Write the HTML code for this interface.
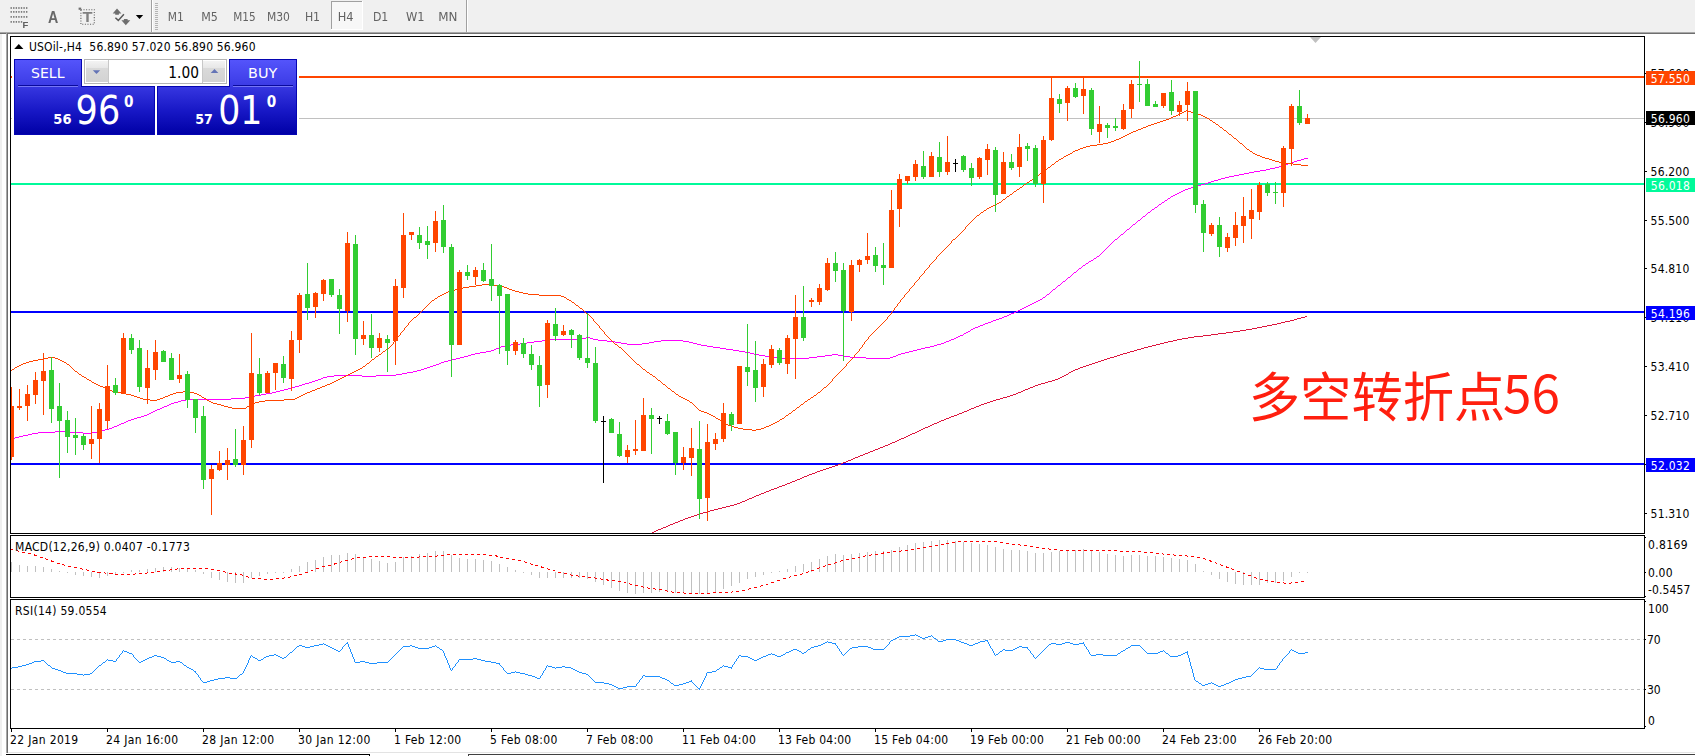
<!DOCTYPE html>
<html><head><meta charset="utf-8"><title>USOil H4</title>
<style>html,body{margin:0;padding:0;background:#fff;overflow:hidden}svg{display:block}text{font-family:'DejaVu Sans Condensed','Liberation Sans',sans-serif;font-size:12px;fill:#000}.cj{font-family:"Liberation Sans","Noto Sans CJK SC",sans-serif}.cj2{font-family:"Noto Sans CJK SC","Liberation Sans",sans-serif}</style></head><body>
<svg width="1695" height="756" viewBox="0 0 1695 756">
<defs><linearGradient id="gSell" x1="0" y1="0" x2="0" y2="1"><stop offset="0" stop-color="#5454fb"/><stop offset="1" stop-color="#3a3ae4"/></linearGradient><linearGradient id="gTile" x1="0" y1="0" x2="0" y2="1"><stop offset="0" stop-color="#3636e0"/><stop offset="0.5" stop-color="#1818c6"/><stop offset="1" stop-color="#0000a6"/></linearGradient><linearGradient id="gBtn" x1="0" y1="0" x2="0" y2="1"><stop offset="0" stop-color="#f3f3f3"/><stop offset="0.32" stop-color="#e7e7e7"/><stop offset="0.33" stop-color="#dadada"/><stop offset="1" stop-color="#d3d3d3"/></linearGradient><filter id="soft" x="-5%" y="-5%" width="110%" height="110%"><feGaussianBlur stdDeviation="0.35"/></filter><filter id="gray" x="-5%" y="-20%" width="110%" height="140%"><feOffset dx="0" dy="0"/></filter><clipPath id="cMain"><rect x="11" y="37" width="1633" height="496"/></clipPath></defs>
<rect x="0" y="0" width="1695" height="756" fill="#fff"/>
<rect x="0" y="0" width="1695" height="32" fill="#f0f0f0"/>
<rect x="0" y="32" width="1695" height="1" fill="#a8a8a8"/>
<rect x="0" y="33" width="1695" height="1" fill="#6e6e6e"/>
<rect x="0" y="34" width="2" height="722" fill="#f0f0f0"/>
<rect x="6" y="33" width="1" height="720" fill="#a8a8a8"/>
<rect x="7" y="33" width="1" height="720" fill="#6e6e6e"/>
<rect x="8" y="752" width="1687" height="1" fill="#e3e3e3"/>
<rect x="6" y="754" width="364" height="1" fill="#000"/>
<rect x="369" y="754" width="1" height="2" fill="#000"/>
<rect x="468" y="754" width="1227" height="1" fill="#404040"/>
<rect x="468" y="754" width="1" height="2" fill="#404040"/>
<g clip-path="url(#cMain)" shape-rendering="crispEdges">
<rect x="11" y="118" width="1633" height="1" fill="#c0c0c0"/>
<rect x="11" y="76" width="1633" height="2" fill="#ff4500"/>
<rect x="11" y="183" width="1633" height="2" fill="#00fa9a"/>
<rect x="11" y="311" width="1633" height="2" fill="#0000ff"/>
<rect x="11" y="463" width="1633" height="2" fill="#0000ff"/>
</g>
<g clip-path="url(#cMain)" shape-rendering="crispEdges">
<path d="M650 533h2v1h-2zM652 532h2v1h-2zM654 531h2v1h-2zM656 530h2v1h-2zM658 529h3v1h-3zM661 528h2v1h-2zM663 527h3v1h-3zM666 526h2v1h-2zM668 525h2v1h-2zM670 524h3v1h-3zM673 523h2v1h-2zM675 522h3v1h-3zM678 521h2v1h-2zM680 520h3v1h-3zM683 519h2v1h-2zM685 518h3v1h-3zM688 517h3v1h-3zM691 516h3v1h-3zM694 515h3v1h-3zM697 514h3v1h-3zM700 513h3v1h-3zM703 512h4v1h-4zM707 511h3v1h-3zM710 510h4v1h-4zM714 509h4v1h-4zM718 508h4v1h-4zM722 507h4v1h-4zM726 506h4v1h-4zM730 505h4v1h-4zM734 504h3v1h-3zM737 503h3v1h-3zM740 502h2v1h-2zM742 501h3v1h-3zM745 500h2v1h-2zM747 499h2v1h-2zM749 498h3v1h-3zM752 497h2v1h-2zM754 496h2v1h-2zM756 495h3v1h-3zM759 494h2v1h-2zM761 493h3v1h-3zM764 492h2v1h-2zM766 491h3v1h-3zM769 490h2v1h-2zM771 489h3v1h-3zM774 488h3v1h-3zM777 487h2v1h-2zM779 486h3v1h-3zM782 485h3v1h-3zM785 484h2v1h-2zM787 483h3v1h-3zM790 482h2v1h-2zM792 481h3v1h-3zM795 480h2v1h-2zM797 479h3v1h-3zM800 478h2v1h-2zM802 477h2v1h-2zM804 476h3v1h-3zM807 475h2v1h-2zM809 474h3v1h-3zM812 473h3v1h-3zM815 472h2v1h-2zM817 471h3v1h-3zM820 470h3v1h-3zM823 469h3v1h-3zM826 468h3v1h-3zM829 467h3v1h-3zM832 466h3v1h-3zM835 465h3v1h-3zM838 464h3v1h-3zM841 463h2v1h-2zM843 462h3v1h-3zM846 461h2v1h-2zM848 460h3v1h-3zM851 459h2v1h-2zM853 458h2v1h-2zM855 457h3v1h-3zM858 456h2v1h-2zM860 455h3v1h-3zM863 454h2v1h-2zM865 453h3v1h-3zM868 452h2v1h-2zM870 451h3v1h-3zM873 450h2v1h-2zM875 449h3v1h-3zM878 448h2v1h-2zM880 447h3v1h-3zM883 446h2v1h-2zM885 445h3v1h-3zM888 444h2v1h-2zM890 443h2v1h-2zM892 442h3v1h-3zM895 441h2v1h-2zM897 440h2v1h-2zM899 439h2v1h-2zM901 438h3v1h-3zM904 437h2v1h-2zM906 436h2v1h-2zM908 435h2v1h-2zM910 434h2v1h-2zM912 433h3v1h-3zM915 432h2v1h-2zM917 431h2v1h-2zM919 430h2v1h-2zM921 429h2v1h-2zM923 428h2v1h-2zM925 427h3v1h-3zM928 426h2v1h-2zM930 425h2v1h-2zM932 424h2v1h-2zM934 423h3v1h-3zM937 422h2v1h-2zM939 421h2v1h-2zM941 420h3v1h-3zM944 419h2v1h-2zM946 418h3v1h-3zM949 417h2v1h-2zM951 416h3v1h-3zM954 415h3v1h-3zM957 414h2v1h-2zM959 413h3v1h-3zM962 412h2v1h-2zM964 411h3v1h-3zM967 410h2v1h-2zM969 409h2v1h-2zM971 408h3v1h-3zM974 407h2v1h-2zM976 406h3v1h-3zM979 405h2v1h-2zM981 404h3v1h-3zM984 403h3v1h-3zM987 402h3v1h-3zM990 401h3v1h-3zM993 400h3v1h-3zM996 399h4v1h-4zM1000 398h3v1h-3zM1003 397h4v1h-4zM1007 396h3v1h-3zM1010 395h3v1h-3zM1013 394h3v1h-3zM1016 393h2v1h-2zM1018 392h3v1h-3zM1021 391h2v1h-2zM1023 390h2v1h-2zM1025 389h3v1h-3zM1028 388h2v1h-2zM1030 387h3v1h-3zM1033 386h2v1h-2zM1035 385h3v1h-3zM1038 384h3v1h-3zM1041 383h4v1h-4zM1045 382h3v1h-3zM1048 381h4v1h-4zM1052 380h3v1h-3zM1055 379h3v1h-3zM1058 378h2v1h-2zM1060 377h2v1h-2zM1062 376h2v1h-2zM1064 375h2v1h-2zM1066 374h2v1h-2zM1068 373h1v1h-1zM1069 372h2v1h-2zM1071 371h2v1h-2zM1073 370h2v1h-2zM1075 369h3v1h-3zM1078 368h2v1h-2zM1080 367h3v1h-3zM1083 366h3v1h-3zM1086 365h3v1h-3zM1089 364h3v1h-3zM1092 363h3v1h-3zM1095 362h3v1h-3zM1098 361h3v1h-3zM1101 360h3v1h-3zM1104 359h3v1h-3zM1107 358h3v1h-3zM1110 357h4v1h-4zM1114 356h3v1h-3zM1117 355h3v1h-3zM1120 354h3v1h-3zM1123 353h4v1h-4zM1127 352h3v1h-3zM1130 351h4v1h-4zM1134 350h3v1h-3zM1137 349h4v1h-4zM1141 348h3v1h-3zM1144 347h4v1h-4zM1148 346h4v1h-4zM1152 345h4v1h-4zM1156 344h4v1h-4zM1160 343h4v1h-4zM1164 342h4v1h-4zM1168 341h5v1h-5zM1173 340h4v1h-4zM1177 339h5v1h-5zM1182 338h6v1h-6zM1188 337h6v1h-6zM1194 336h9v1h-9zM1203 335h8v1h-8zM1211 334h7v1h-7zM1218 333h8v1h-8zM1226 332h7v1h-7zM1233 331h7v1h-7zM1240 330h6v1h-6zM1246 329h6v1h-6zM1252 328h5v1h-5zM1257 327h5v1h-5zM1262 326h5v1h-5zM1267 325h5v1h-5zM1272 324h5v1h-5zM1277 323h4v1h-4zM1281 322h4v1h-4zM1285 321h5v1h-5zM1290 320h4v1h-4zM1294 319h3v1h-3zM1297 318h4v1h-4zM1301 317h4v1h-4zM1305 316h2v1h-2z" fill="#dc143c" />
<path d="M10 439h1v1h-1zM11 438h4v1h-4zM15 437h4v1h-4zM19 436h4v1h-4zM23 435h5v1h-5zM28 434h4v1h-4zM32 433h6v1h-6zM38 432h17v1h-17zM55 431h13v1h-13zM68 432h15v1h-15zM83 433h8v1h-8zM91 432h6v1h-6zM97 431h5v1h-5zM102 430h3v1h-3zM105 429h4v1h-4zM109 428h3v1h-3zM112 427h2v1h-2zM114 426h3v1h-3zM117 425h2v1h-2zM119 424h2v1h-2zM121 423h3v1h-3zM124 422h2v1h-2zM126 421h2v1h-2zM128 420h3v1h-3zM131 419h3v1h-3zM134 418h3v1h-3zM137 417h4v1h-4zM141 416h3v1h-3zM144 415h3v1h-3zM147 414h2v1h-2zM149 413h2v1h-2zM151 412h2v1h-2zM153 411h2v1h-2zM155 410h2v1h-2zM157 409h3v1h-3zM160 408h2v1h-2zM162 407h2v1h-2zM164 406h3v1h-3zM167 405h2v1h-2zM169 404h2v1h-2zM171 403h3v1h-3zM174 402h4v1h-4zM178 401h3v1h-3zM181 400h5v1h-5zM186 399h45v1h-45zM231 398h14v1h-14zM245 397h5v1h-5zM250 396h5v1h-5zM255 395h6v1h-6zM261 394h5v1h-5zM266 393h6v1h-6zM272 392h4v1h-4zM276 391h4v1h-4zM280 390h4v1h-4zM284 389h4v1h-4zM288 388h4v1h-4zM292 387h3v1h-3zM295 386h4v1h-4zM299 385h3v1h-3zM302 384h3v1h-3zM305 383h4v1h-4zM309 382h3v1h-3zM312 381h3v1h-3zM315 380h3v1h-3zM318 379h3v1h-3zM321 378h2v1h-2zM323 377h4v1h-4zM327 376h7v1h-7zM334 375h28v1h-28zM362 376h14v1h-14zM376 375h20v1h-20zM396 374h6v1h-6zM402 373h5v1h-5zM407 372h6v1h-6zM413 371h4v1h-4zM417 370h4v1h-4zM421 369h3v1h-3zM424 368h3v1h-3zM427 367h3v1h-3zM430 366h3v1h-3zM433 365h3v1h-3zM436 364h3v1h-3zM439 363h2v1h-2zM441 362h3v1h-3zM444 361h4v1h-4zM448 360h4v1h-4zM452 359h4v1h-4zM456 358h4v1h-4zM460 357h4v1h-4zM464 356h4v1h-4zM468 355h3v1h-3zM471 354h4v1h-4zM475 353h5v1h-5zM480 352h6v1h-6zM486 351h5v1h-5zM491 350h3v1h-3zM494 349h2v1h-2zM496 348h3v1h-3zM499 347h2v1h-2zM501 346h4v1h-4zM505 345h6v1h-6zM511 344h9v1h-9zM520 343h7v1h-7zM527 342h7v1h-7zM534 341h8v1h-8zM542 340h8v1h-8zM550 339h30v1h-30zM580 338h6v1h-6zM586 337h4v1h-4zM590 338h3v1h-3zM593 339h5v1h-5zM598 340h9v1h-9zM607 341h8v1h-8zM615 342h6v1h-6zM621 343h6v1h-6zM627 344h15v1h-15zM642 343h7v1h-7zM649 342h5v1h-5zM654 341h7v1h-7zM661 340h22v1h-22zM683 341h6v1h-6zM689 342h4v1h-4zM693 343h4v1h-4zM697 344h4v1h-4zM701 345h6v1h-6zM707 346h6v1h-6zM713 347h7v1h-7zM720 348h6v1h-6zM726 349h7v1h-7zM733 350h6v1h-6zM739 351h6v1h-6zM745 352h5v1h-5zM750 353h4v1h-4zM754 354h5v1h-5zM759 355h6v1h-6zM765 356h5v1h-5zM770 357h8v1h-8zM778 358h31v1h-31zM809 357h8v1h-8zM817 356h8v1h-8zM825 355h7v1h-7zM832 354h6v1h-6zM838 355h5v1h-5zM843 356h7v1h-7zM850 357h16v1h-16zM866 358h24v1h-24zM890 357h3v1h-3zM893 356h3v1h-3zM896 355h2v1h-2zM898 354h3v1h-3zM901 353h4v1h-4zM905 352h4v1h-4zM909 351h4v1h-4zM913 350h4v1h-4zM917 349h4v1h-4zM921 348h4v1h-4zM925 347h5v1h-5zM930 346h4v1h-4zM934 345h3v1h-3zM937 344h4v1h-4zM941 343h3v1h-3zM944 342h2v1h-2zM946 341h3v1h-3zM949 340h2v1h-2zM951 339h3v1h-3zM954 338h2v1h-2zM956 337h2v1h-2zM958 336h2v1h-2zM960 335h3v1h-3zM963 334h1v1h-1zM964 333h2v1h-2zM966 332h2v1h-2zM968 331h2v1h-2zM970 330h1v1h-1zM971 329h2v1h-2zM973 328h2v1h-2zM975 327h3v1h-3zM978 326h2v1h-2zM980 325h3v1h-3zM983 324h2v1h-2zM985 323h3v1h-3zM988 322h3v1h-3zM991 321h2v1h-2zM993 320h3v1h-3zM996 319h3v1h-3zM999 318h3v1h-3zM1002 317h2v1h-2zM1004 316h3v1h-3zM1007 315h2v1h-2zM1009 314h2v1h-2zM1011 313h3v1h-3zM1014 312h2v1h-2zM1016 311h2v1h-2zM1018 310h2v1h-2zM1020 309h2v1h-2zM1022 308h2v1h-2zM1024 307h2v1h-2zM1026 306h2v1h-2zM1028 305h2v1h-2zM1030 304h2v1h-2zM1032 303h2v1h-2zM1034 302h2v1h-2zM1036 301h2v1h-2zM1038 300h2v1h-2zM1040 299h2v1h-2zM1042 298h1v1h-1zM1043 297h2v1h-2zM1045 296h1v1h-1zM1046 295h1v1h-1zM1047 294h2v1h-2zM1049 293h1v1h-1zM1050 292h1v1h-1zM1051 291h1v1h-1zM1052 290h1v1h-1zM1053 289h2v1h-2zM1055 288h1v1h-1zM1056 287h1v1h-1zM1057 286h1v1h-1zM1058 285h2v1h-2zM1060 284h1v1h-1zM1061 283h1v1h-1zM1062 282h1v1h-1zM1063 281h2v1h-2zM1065 280h1v1h-1zM1066 279h1v1h-1zM1067 278h1v1h-1zM1068 277h2v1h-2zM1070 276h1v1h-1zM1071 275h1v1h-1zM1072 274h1v1h-1zM1073 273h1v1h-1zM1074 272h2v1h-2zM1076 271h1v1h-1zM1077 270h1v1h-1zM1078 269h1v1h-1zM1079 268h2v1h-2zM1081 267h1v1h-1zM1082 266h1v1h-1zM1083 265h2v1h-2zM1085 264h1v1h-1zM1086 263h2v1h-2zM1088 262h1v1h-1zM1089 261h2v1h-2zM1091 260h2v1h-2zM1093 259h1v1h-1zM1094 258h2v1h-2zM1096 257h1v1h-1zM1097 256h2v1h-2zM1099 255h1v1h-1zM1100 254h1v1h-1zM1101 253h1v1h-1zM1102 252h1v1h-1zM1103 251h1v1h-1zM1104 250h1v1h-1zM1105 249h1v1h-1zM1106 248h1v1h-1zM1107 247h1v1h-1zM1108 246h1v1h-1zM1109 245h1v1h-1zM1110 244h1v1h-1zM1111 243h1v1h-1zM1112 242h1v1h-1zM1113 241h1v1h-1zM1114 240h1v1h-1zM1115 239h2v1h-2zM1117 238h1v1h-1zM1118 237h1v1h-1zM1119 236h1v1h-1zM1120 235h1v1h-1zM1121 234h2v1h-2zM1123 233h1v1h-1zM1124 232h1v1h-1zM1125 231h1v1h-1zM1126 230h1v1h-1zM1127 229h2v1h-2zM1129 228h1v1h-1zM1130 227h1v1h-1zM1131 226h1v1h-1zM1132 225h1v1h-1zM1133 224h2v1h-2zM1135 223h1v1h-1zM1136 222h1v1h-1zM1137 221h1v1h-1zM1138 220h2v1h-2zM1140 219h1v1h-1zM1141 218h1v1h-1zM1142 217h1v1h-1zM1143 216h2v1h-2zM1145 215h1v1h-1zM1146 214h1v1h-1zM1147 213h1v1h-1zM1148 212h2v1h-2zM1150 211h1v1h-1zM1151 210h1v1h-1zM1152 209h2v1h-2zM1154 208h1v1h-1zM1155 207h2v1h-2zM1157 206h1v1h-1zM1158 205h1v1h-1zM1159 204h2v1h-2zM1161 203h1v1h-1zM1162 202h2v1h-2zM1164 201h1v1h-1zM1165 200h2v1h-2zM1167 199h1v1h-1zM1168 198h2v1h-2zM1170 197h1v1h-1zM1171 196h2v1h-2zM1173 195h2v1h-2zM1175 194h2v1h-2zM1177 193h2v1h-2zM1179 192h2v1h-2zM1181 191h2v1h-2zM1183 190h2v1h-2zM1185 189h3v1h-3zM1188 188h3v1h-3zM1191 187h3v1h-3zM1194 186h3v1h-3zM1197 185h4v1h-4zM1201 184h4v1h-4zM1205 183h3v1h-3zM1208 182h3v1h-3zM1211 181h3v1h-3zM1214 180h4v1h-4zM1218 179h3v1h-3zM1221 178h4v1h-4zM1225 177h4v1h-4zM1229 176h5v1h-5zM1234 175h5v1h-5zM1239 174h5v1h-5zM1244 173h5v1h-5zM1249 172h5v1h-5zM1254 171h6v1h-6zM1260 170h6v1h-6zM1266 169h4v1h-4zM1270 168h5v1h-5zM1275 167h4v1h-4zM1279 166h3v1h-3zM1282 165h3v1h-3zM1285 164h3v1h-3zM1288 163h3v1h-3zM1291 162h3v1h-3zM1294 161h3v1h-3zM1297 160h4v1h-4zM1301 159h3v1h-3zM1304 158h4v1h-4z" fill="#ff00ff" />
<path d="M10 371h1v1h-1zM11 370h1v1h-1zM12 369h2v1h-2zM14 368h1v1h-1zM15 367h2v1h-2zM17 366h2v1h-2zM19 365h2v1h-2zM21 364h2v1h-2zM23 363h3v1h-3zM26 362h3v1h-3zM29 361h4v1h-4zM33 360h5v1h-5zM38 359h5v1h-5zM43 358h5v1h-5zM48 357h7v1h-7zM55 358h3v1h-3zM58 359h2v1h-2zM60 360h2v1h-2zM62 361h2v1h-2zM64 362h2v1h-2zM66 363h1v1h-1zM67 364h2v1h-2zM69 365h1v1h-1zM70 366h1v1h-1zM71 367h1v1h-1zM72 368h1v1h-1zM73 369h1v1h-1zM74 370h1v1h-1zM75 371h2v1h-2zM77 372h1v1h-1zM78 373h1v1h-1zM79 374h2v1h-2zM81 375h1v1h-1zM82 376h2v1h-2zM84 377h2v1h-2zM86 378h1v1h-1zM87 379h2v1h-2zM89 380h2v1h-2zM91 381h1v1h-1zM92 382h2v1h-2zM94 383h2v1h-2zM96 384h2v1h-2zM98 385h2v1h-2zM100 386h3v1h-3zM103 387h2v1h-2zM105 388h2v1h-2zM107 389h3v1h-3zM110 390h2v1h-2zM112 391h4v1h-4zM116 392h5v1h-5zM121 393h5v1h-5zM126 394h5v1h-5zM131 395h3v1h-3zM134 396h3v1h-3zM137 397h3v1h-3zM140 398h3v1h-3zM143 399h7v1h-7zM150 400h7v1h-7zM157 399h3v1h-3zM160 398h3v1h-3zM163 397h2v1h-2zM165 396h3v1h-3zM168 395h2v1h-2zM170 394h3v1h-3zM173 393h3v1h-3zM176 392h7v1h-7zM183 391h7v1h-7zM190 392h4v1h-4zM194 393h3v1h-3zM197 394h2v1h-2zM199 395h2v1h-2zM201 396h1v1h-1zM202 397h2v1h-2zM204 398h2v1h-2zM206 399h1v1h-1zM207 400h2v1h-2zM209 401h2v1h-2zM211 402h2v1h-2zM213 403h4v1h-4zM217 404h4v1h-4zM221 405h3v1h-3zM224 406h4v1h-4zM228 407h4v1h-4zM232 408h14v1h-14zM246 407h1v1h-1zM247 406h2v1h-2zM249 405h1v1h-1zM250 404h2v1h-2zM252 403h3v1h-3zM255 402h4v1h-4zM259 401h6v1h-6zM265 400h19v1h-19zM284 399h11v1h-11zM295 398h2v1h-2zM297 397h2v1h-2zM299 396h2v1h-2zM301 395h2v1h-2zM303 394h2v1h-2zM305 393h2v1h-2zM307 392h3v1h-3zM310 391h2v1h-2zM312 390h3v1h-3zM315 389h2v1h-2zM317 388h3v1h-3zM320 387h2v1h-2zM322 386h3v1h-3zM325 385h2v1h-2zM327 384h3v1h-3zM330 383h2v1h-2zM332 382h2v1h-2zM334 381h2v1h-2zM336 380h2v1h-2zM338 379h2v1h-2zM340 378h2v1h-2zM342 377h2v1h-2zM344 376h2v1h-2zM346 375h2v1h-2zM348 374h2v1h-2zM350 373h2v1h-2zM352 372h2v1h-2zM354 371h2v1h-2zM356 370h2v1h-2zM358 369h2v1h-2zM360 368h2v1h-2zM362 367h1v1h-1zM363 366h2v1h-2zM365 365h1v1h-1zM366 364h1v1h-1zM367 363h2v1h-2zM369 362h1v1h-1zM370 361h1v1h-1zM371 360h1v1h-1zM372 359h2v1h-2zM374 358h1v1h-1zM375 357h1v1h-1zM376 356h2v1h-2zM378 355h1v1h-1zM379 354h2v1h-2zM381 353h1v1h-1zM382 352h1v1h-1zM383 351h2v1h-2zM385 350h1v1h-1zM386 349h1v1h-1zM387 348h2v1h-2zM389 347h1v1h-1zM390 346h1v1h-1zM391 345h1v1h-1zM392 344h1v1h-1zM393 342h1v2h-1zM394 341h1v1h-1zM395 340h1v1h-1zM396 339h1v1h-1zM397 337h1v2h-1zM398 336h1v1h-1zM399 335h1v1h-1zM400 333h1v2h-1zM401 332h1v1h-1zM402 331h1v1h-1zM403 330h1v1h-1zM404 328h1v2h-1zM405 327h1v1h-1zM406 326h1v1h-1zM407 325h1v1h-1zM408 323h1v2h-1zM409 322h1v1h-1zM410 321h1v1h-1zM411 320h1v1h-1zM412 319h1v1h-1zM413 318h1v1h-1zM414 317h2v1h-2zM416 316h1v1h-1zM417 315h1v1h-1zM418 314h1v1h-1zM419 313h1v1h-1zM420 312h1v1h-1zM421 311h1v1h-1zM422 310h1v1h-1zM423 309h1v1h-1zM424 308h1v1h-1zM425 307h1v1h-1zM426 306h1v1h-1zM427 305h1v1h-1zM428 304h1v1h-1zM429 303h1v1h-1zM430 302h1v1h-1zM431 301h1v1h-1zM432 300h2v1h-2zM434 299h1v1h-1zM435 298h2v1h-2zM437 297h1v1h-1zM438 296h2v1h-2zM440 295h2v1h-2zM442 294h2v1h-2zM444 293h2v1h-2zM446 292h2v1h-2zM448 291h3v1h-3zM451 290h4v1h-4zM455 289h3v1h-3zM458 288h5v1h-5zM463 287h6v1h-6zM469 286h7v1h-7zM476 285h6v1h-6zM482 284h10v1h-10zM492 285h8v1h-8zM500 286h4v1h-4zM504 287h3v1h-3zM507 288h2v1h-2zM509 289h3v1h-3zM512 290h3v1h-3zM515 291h4v1h-4zM519 292h4v1h-4zM523 293h5v1h-5zM528 294h11v1h-11zM539 295h22v1h-22zM561 296h3v1h-3zM564 297h2v1h-2zM566 298h1v1h-1zM567 299h2v1h-2zM569 300h2v1h-2zM571 301h1v1h-1zM572 302h2v1h-2zM574 303h1v1h-1zM575 304h1v1h-1zM576 305h2v1h-2zM578 306h1v1h-1zM579 307h1v1h-1zM580 308h2v1h-2zM582 309h1v1h-1zM583 310h1v1h-1zM584 311h1v1h-1zM585 312h1v1h-1zM586 313h2v1h-2zM588 314h1v1h-1zM589 315h1v1h-1zM590 316h1v1h-1zM591 317h1v1h-1zM592 318h1v1h-1zM593 319h1v2h-1zM594 321h1v1h-1zM595 322h1v1h-1zM596 323h1v1h-1zM597 324h1v1h-1zM598 325h1v1h-1zM599 326h1v2h-1zM600 328h1v1h-1zM601 329h1v1h-1zM602 330h1v1h-1zM603 331h1v1h-1zM604 332h1v2h-1zM605 334h1v1h-1zM606 335h1v1h-1zM607 336h1v1h-1zM608 337h1v1h-1zM609 338h1v1h-1zM610 339h1v1h-1zM611 340h1v1h-1zM612 341h1v1h-1zM613 342h1v1h-1zM614 343h1v1h-1zM615 344h2v1h-2zM617 345h1v1h-1zM618 346h1v1h-1zM619 347h2v1h-2zM621 348h1v1h-1zM622 349h1v1h-1zM623 350h1v1h-1zM624 351h1v1h-1zM625 352h1v1h-1zM626 353h1v1h-1zM627 354h1v1h-1zM628 355h1v1h-1zM629 356h1v1h-1zM630 357h1v1h-1zM631 358h1v1h-1zM632 359h1v1h-1zM633 360h1v1h-1zM634 361h1v1h-1zM635 362h1v1h-1zM636 363h1v1h-1zM637 364h2v1h-2zM639 365h1v1h-1zM640 366h1v1h-1zM641 367h1v1h-1zM642 368h1v1h-1zM643 369h2v1h-2zM645 370h1v1h-1zM646 371h1v1h-1zM647 372h2v1h-2zM649 373h1v1h-1zM650 374h2v1h-2zM652 375h1v1h-1zM653 376h2v1h-2zM655 377h1v1h-1zM656 378h1v1h-1zM657 379h1v1h-1zM658 380h2v1h-2zM660 381h1v1h-1zM661 382h1v1h-1zM662 383h1v1h-1zM663 384h2v1h-2zM665 385h1v1h-1zM666 386h1v1h-1zM667 387h1v1h-1zM668 388h2v1h-2zM670 389h1v1h-1zM671 390h1v1h-1zM672 391h2v1h-2zM674 392h1v1h-1zM675 393h1v1h-1zM676 394h2v1h-2zM678 395h1v1h-1zM679 396h2v1h-2zM681 397h2v1h-2zM683 398h2v1h-2zM685 399h2v1h-2zM687 400h2v1h-2zM689 401h1v1h-1zM690 402h2v1h-2zM692 403h1v1h-1zM693 404h1v1h-1zM694 405h1v1h-1zM695 406h1v1h-1zM696 407h1v1h-1zM697 408h1v1h-1zM698 409h1v1h-1zM699 410h2v1h-2zM701 411h3v1h-3zM704 412h3v1h-3zM707 413h2v1h-2zM709 414h2v1h-2zM711 415h2v1h-2zM713 416h2v1h-2zM715 417h1v1h-1zM716 418h2v1h-2zM718 419h2v1h-2zM720 420h1v1h-1zM721 421h2v1h-2zM723 422h2v1h-2zM725 423h1v1h-1zM726 424h2v1h-2zM728 425h3v1h-3zM731 426h3v1h-3zM734 427h4v1h-4zM738 428h5v1h-5zM743 429h9v1h-9zM752 430h4v1h-4zM756 429h5v1h-5zM761 428h3v1h-3zM764 427h2v1h-2zM766 426h3v1h-3zM769 425h2v1h-2zM771 424h2v1h-2zM773 423h2v1h-2zM775 422h2v1h-2zM777 421h2v1h-2zM779 420h1v1h-1zM780 419h2v1h-2zM782 418h2v1h-2zM784 417h1v1h-1zM785 416h1v1h-1zM786 415h2v1h-2zM788 414h1v1h-1zM789 413h2v1h-2zM791 412h1v1h-1zM792 411h1v1h-1zM793 410h2v1h-2zM795 409h1v1h-1zM796 408h1v1h-1zM797 407h2v1h-2zM799 406h1v1h-1zM800 405h1v1h-1zM801 404h2v1h-2zM803 403h1v1h-1zM804 402h1v1h-1zM805 401h2v1h-2zM807 400h1v1h-1zM808 399h2v1h-2zM810 398h1v1h-1zM811 397h2v1h-2zM813 396h1v1h-1zM814 395h2v1h-2zM816 394h1v1h-1zM817 393h1v1h-1zM818 392h2v1h-2zM820 391h1v1h-1zM821 390h1v1h-1zM822 389h1v1h-1zM823 388h1v1h-1zM824 387h2v1h-2zM826 386h1v1h-1zM827 385h1v1h-1zM828 384h1v1h-1zM829 383h1v1h-1zM830 382h1v1h-1zM831 381h1v1h-1zM832 379h1v2h-1zM833 378h1v1h-1zM834 377h1v1h-1zM835 376h1v1h-1zM836 375h1v1h-1zM837 374h1v1h-1zM838 373h1v1h-1zM839 372h1v1h-1zM840 371h1v1h-1zM841 370h1v1h-1zM842 369h1v1h-1zM843 368h1v1h-1zM844 367h1v1h-1zM845 366h1v1h-1zM846 364h1v2h-1zM847 363h1v1h-1zM848 362h1v1h-1zM849 361h1v1h-1zM850 360h1v1h-1zM851 359h1v1h-1zM852 358h1v1h-1zM853 357h1v1h-1zM854 355h1v2h-1zM855 354h1v1h-1zM856 353h1v1h-1zM857 352h1v1h-1zM858 351h1v1h-1zM859 349h1v2h-1zM860 348h1v1h-1zM861 347h1v1h-1zM862 345h1v2h-1zM863 344h1v1h-1zM864 342h1v2h-1zM865 341h1v1h-1zM866 340h1v1h-1zM867 339h1v1h-1zM868 337h1v2h-1zM869 336h1v1h-1zM870 335h1v1h-1zM871 334h1v1h-1zM872 333h1v1h-1zM873 332h1v1h-1zM874 331h1v1h-1zM875 330h1v1h-1zM876 329h1v1h-1zM877 328h1v1h-1zM878 327h1v1h-1zM879 326h1v1h-1zM880 325h1v1h-1zM881 324h1v1h-1zM882 323h1v1h-1zM883 322h1v1h-1zM884 321h1v1h-1zM885 320h1v1h-1zM886 319h1v1h-1zM887 317h1v2h-1zM888 316h1v1h-1zM889 315h1v1h-1zM890 314h1v1h-1zM891 312h1v2h-1zM892 311h1v1h-1zM893 310h1v1h-1zM894 308h1v2h-1zM895 307h1v1h-1zM896 306h1v1h-1zM897 304h1v2h-1zM898 303h1v1h-1zM899 302h1v1h-1zM900 300h1v2h-1zM901 299h1v1h-1zM902 298h1v1h-1zM903 297h1v1h-1zM904 295h1v2h-1zM905 294h1v1h-1zM906 293h1v1h-1zM907 292h1v1h-1zM908 291h1v1h-1zM909 289h1v2h-1zM910 288h1v1h-1zM911 287h1v1h-1zM912 286h1v1h-1zM913 285h1v1h-1zM914 283h1v2h-1zM915 282h1v1h-1zM916 281h1v1h-1zM917 280h1v1h-1zM918 279h1v1h-1zM919 277h1v2h-1zM920 276h1v1h-1zM921 275h1v1h-1zM922 274h1v1h-1zM923 273h1v1h-1zM924 271h1v2h-1zM925 270h1v1h-1zM926 269h1v1h-1zM927 268h1v1h-1zM928 267h1v1h-1zM929 265h1v2h-1zM930 264h1v1h-1zM931 263h1v1h-1zM932 262h1v1h-1zM933 261h1v1h-1zM934 260h1v1h-1zM935 259h1v1h-1zM936 257h1v2h-1zM937 256h1v1h-1zM938 255h1v1h-1zM939 254h1v1h-1zM940 253h1v1h-1zM941 252h1v1h-1zM942 251h1v1h-1zM943 250h1v1h-1zM944 249h1v1h-1zM945 248h1v1h-1zM946 247h1v1h-1zM947 246h1v1h-1zM948 245h1v1h-1zM949 244h1v1h-1zM950 243h1v1h-1zM951 241h1v2h-1zM952 240h1v1h-1zM953 239h2v1h-2zM955 238h1v1h-1zM956 237h1v1h-1zM957 236h1v1h-1zM958 235h1v1h-1zM959 234h1v1h-1zM960 233h1v1h-1zM961 232h1v1h-1zM962 231h1v1h-1zM963 230h1v1h-1zM964 229h1v1h-1zM965 227h1v2h-1zM966 226h1v1h-1zM967 225h1v1h-1zM968 224h1v1h-1zM969 223h1v1h-1zM970 222h1v1h-1zM971 221h1v1h-1zM972 220h1v1h-1zM973 219h1v1h-1zM974 218h1v1h-1zM975 217h1v1h-1zM976 216h1v1h-1zM977 215h2v1h-2zM979 214h1v1h-1zM980 213h1v1h-1zM981 212h2v1h-2zM983 211h1v1h-1zM984 210h2v1h-2zM986 209h1v1h-1zM987 208h2v1h-2zM989 207h2v1h-2zM991 206h2v1h-2zM993 205h2v1h-2zM995 204h2v1h-2zM997 203h2v1h-2zM999 202h2v1h-2zM1001 201h1v1h-1zM1002 200h1v1h-1zM1003 199h2v1h-2zM1005 198h1v1h-1zM1006 197h1v1h-1zM1007 196h2v1h-2zM1009 195h1v1h-1zM1010 194h2v1h-2zM1012 193h1v1h-1zM1013 192h1v1h-1zM1014 191h2v1h-2zM1016 190h1v1h-1zM1017 189h2v1h-2zM1019 188h1v1h-1zM1020 187h2v1h-2zM1022 186h1v1h-1zM1023 185h1v1h-1zM1024 184h2v1h-2zM1026 183h1v1h-1zM1027 182h2v1h-2zM1029 181h1v1h-1zM1030 180h2v1h-2zM1032 179h1v1h-1zM1033 178h1v1h-1zM1034 177h2v1h-2zM1036 176h1v1h-1zM1037 175h2v1h-2zM1039 174h1v1h-1zM1040 173h2v1h-2zM1042 172h1v1h-1zM1043 171h1v1h-1zM1044 170h2v1h-2zM1046 169h1v1h-1zM1047 168h1v1h-1zM1048 167h2v1h-2zM1050 166h1v1h-1zM1051 165h1v1h-1zM1052 164h2v1h-2zM1054 163h1v1h-1zM1055 162h1v1h-1zM1056 161h2v1h-2zM1058 160h1v1h-1zM1059 159h2v1h-2zM1061 158h2v1h-2zM1063 157h1v1h-1zM1064 156h2v1h-2zM1066 155h2v1h-2zM1068 154h2v1h-2zM1070 153h2v1h-2zM1072 152h1v1h-1zM1073 151h2v1h-2zM1075 150h3v1h-3zM1078 149h2v1h-2zM1080 148h3v1h-3zM1083 147h3v1h-3zM1086 146h4v1h-4zM1090 145h7v1h-7zM1097 144h6v1h-6zM1103 143h5v1h-5zM1108 142h3v1h-3zM1111 141h3v1h-3zM1114 140h2v1h-2zM1116 139h3v1h-3zM1119 138h2v1h-2zM1121 137h2v1h-2zM1123 136h2v1h-2zM1125 135h2v1h-2zM1127 134h2v1h-2zM1129 133h2v1h-2zM1131 132h2v1h-2zM1133 131h3v1h-3zM1136 130h2v1h-2zM1138 129h3v1h-3zM1141 128h2v1h-2zM1143 127h3v1h-3zM1146 126h2v1h-2zM1148 125h3v1h-3zM1151 124h3v1h-3zM1154 123h3v1h-3zM1157 122h3v1h-3zM1160 121h3v1h-3zM1163 120h3v1h-3zM1166 119h3v1h-3zM1169 118h2v1h-2zM1171 117h2v1h-2zM1173 116h3v1h-3zM1176 115h2v1h-2zM1178 114h2v1h-2zM1180 113h2v1h-2zM1182 112h2v1h-2zM1184 111h2v1h-2zM1186 110h2v1h-2zM1188 111h3v1h-3zM1191 112h3v1h-3zM1194 113h3v1h-3zM1197 114h4v1h-4zM1201 115h2v1h-2zM1203 116h2v1h-2zM1205 117h2v1h-2zM1207 118h2v1h-2zM1209 119h1v1h-1zM1210 120h2v1h-2zM1212 121h1v1h-1zM1213 122h2v1h-2zM1215 123h1v1h-1zM1216 124h2v1h-2zM1218 125h1v1h-1zM1219 126h1v1h-1zM1220 127h2v1h-2zM1222 128h1v1h-1zM1223 129h1v1h-1zM1224 130h2v1h-2zM1226 131h1v1h-1zM1227 132h1v1h-1zM1228 133h1v1h-1zM1229 134h2v1h-2zM1231 135h1v1h-1zM1232 136h1v1h-1zM1233 137h1v1h-1zM1234 138h2v1h-2zM1236 139h1v1h-1zM1237 140h1v1h-1zM1238 141h1v1h-1zM1239 142h1v1h-1zM1240 143h2v1h-2zM1242 144h1v1h-1zM1243 145h1v1h-1zM1244 146h1v1h-1zM1245 147h1v1h-1zM1246 148h1v1h-1zM1247 149h2v1h-2zM1249 150h1v1h-1zM1250 151h2v1h-2zM1252 152h1v1h-1zM1253 153h2v1h-2zM1255 154h2v1h-2zM1257 155h3v1h-3zM1260 156h2v1h-2zM1262 157h3v1h-3zM1265 158h4v1h-4zM1269 159h3v1h-3zM1272 160h3v1h-3zM1275 161h4v1h-4zM1279 162h5v1h-5zM1284 163h9v1h-9zM1293 164h8v1h-8zM1301 165h7v1h-7z" fill="#ff4500" />
</g>
<g clip-path="url(#cMain)" shape-rendering="crispEdges">
<rect x="11" y="387" width="1" height="73" fill="#ff4500"/>
<rect x="9" y="406" width="5" height="51" fill="#ff4500"/>
<rect x="19" y="389" width="1" height="21" fill="#ff4500"/>
<rect x="17" y="406" width="5" height="2" fill="#ff4500"/>
<rect x="27" y="385" width="1" height="36" fill="#ff4500"/>
<rect x="25" y="394" width="5" height="12" fill="#ff4500"/>
<rect x="35" y="372" width="1" height="32" fill="#ff4500"/>
<rect x="33" y="380" width="5" height="15" fill="#ff4500"/>
<rect x="43" y="353" width="1" height="62" fill="#ff4500"/>
<rect x="41" y="371" width="5" height="10" fill="#ff4500"/>
<rect x="51" y="357" width="1" height="66" fill="#32cd32"/>
<rect x="49" y="370" width="5" height="39" fill="#32cd32"/>
<rect x="59" y="383" width="1" height="95" fill="#32cd32"/>
<rect x="57" y="406" width="5" height="15" fill="#32cd32"/>
<rect x="67" y="411" width="1" height="42" fill="#32cd32"/>
<rect x="65" y="420" width="5" height="17" fill="#32cd32"/>
<rect x="75" y="418" width="1" height="37" fill="#32cd32"/>
<rect x="73" y="435" width="5" height="3" fill="#32cd32"/>
<rect x="83" y="434" width="1" height="16" fill="#32cd32"/>
<rect x="81" y="436" width="5" height="9" fill="#32cd32"/>
<rect x="91" y="406" width="1" height="53" fill="#ff4500"/>
<rect x="89" y="439" width="5" height="5" fill="#ff4500"/>
<rect x="99" y="403" width="1" height="60" fill="#ff4500"/>
<rect x="97" y="409" width="5" height="30" fill="#ff4500"/>
<rect x="107" y="365" width="1" height="64" fill="#ff4500"/>
<rect x="105" y="386" width="5" height="35" fill="#ff4500"/>
<rect x="115" y="378" width="1" height="17" fill="#32cd32"/>
<rect x="113" y="385" width="5" height="8" fill="#32cd32"/>
<rect x="123" y="333" width="1" height="60" fill="#ff4500"/>
<rect x="121" y="338" width="5" height="55" fill="#ff4500"/>
<rect x="131" y="334" width="1" height="20" fill="#32cd32"/>
<rect x="129" y="338" width="5" height="12" fill="#32cd32"/>
<rect x="139" y="340" width="1" height="52" fill="#32cd32"/>
<rect x="137" y="348" width="5" height="39" fill="#32cd32"/>
<rect x="147" y="350" width="1" height="54" fill="#ff4500"/>
<rect x="145" y="368" width="5" height="20" fill="#ff4500"/>
<rect x="155" y="340" width="1" height="40" fill="#ff4500"/>
<rect x="153" y="352" width="5" height="18" fill="#ff4500"/>
<rect x="163" y="350" width="1" height="12" fill="#32cd32"/>
<rect x="161" y="351" width="5" height="11" fill="#32cd32"/>
<rect x="171" y="353" width="1" height="27" fill="#32cd32"/>
<rect x="169" y="358" width="5" height="22" fill="#32cd32"/>
<rect x="179" y="354" width="1" height="29" fill="#ff4500"/>
<rect x="177" y="375" width="5" height="4" fill="#ff4500"/>
<rect x="187" y="371" width="1" height="37" fill="#32cd32"/>
<rect x="185" y="374" width="5" height="26" fill="#32cd32"/>
<rect x="195" y="399" width="1" height="34" fill="#32cd32"/>
<rect x="193" y="399" width="5" height="19" fill="#32cd32"/>
<rect x="203" y="406" width="1" height="83" fill="#32cd32"/>
<rect x="201" y="416" width="5" height="64" fill="#32cd32"/>
<rect x="211" y="465" width="1" height="50" fill="#ff4500"/>
<rect x="209" y="469" width="5" height="10" fill="#ff4500"/>
<rect x="219" y="451" width="1" height="20" fill="#ff4500"/>
<rect x="217" y="463" width="5" height="7" fill="#ff4500"/>
<rect x="227" y="448" width="1" height="32" fill="#ff4500"/>
<rect x="225" y="460" width="5" height="5" fill="#ff4500"/>
<rect x="235" y="429" width="1" height="38" fill="#32cd32"/>
<rect x="233" y="459" width="5" height="6" fill="#32cd32"/>
<rect x="243" y="426" width="1" height="49" fill="#ff4500"/>
<rect x="241" y="440" width="5" height="25" fill="#ff4500"/>
<rect x="251" y="333" width="1" height="115" fill="#ff4500"/>
<rect x="249" y="373" width="5" height="67" fill="#ff4500"/>
<rect x="259" y="358" width="1" height="37" fill="#32cd32"/>
<rect x="257" y="374" width="5" height="19" fill="#32cd32"/>
<rect x="267" y="371" width="1" height="22" fill="#ff4500"/>
<rect x="265" y="373" width="5" height="20" fill="#ff4500"/>
<rect x="275" y="363" width="1" height="27" fill="#ff4500"/>
<rect x="273" y="363" width="5" height="10" fill="#ff4500"/>
<rect x="283" y="356" width="1" height="27" fill="#32cd32"/>
<rect x="281" y="364" width="5" height="14" fill="#32cd32"/>
<rect x="291" y="331" width="1" height="60" fill="#ff4500"/>
<rect x="289" y="340" width="5" height="39" fill="#ff4500"/>
<rect x="299" y="293" width="1" height="60" fill="#ff4500"/>
<rect x="297" y="295" width="5" height="45" fill="#ff4500"/>
<rect x="307" y="263" width="1" height="57" fill="#32cd32"/>
<rect x="305" y="294" width="5" height="14" fill="#32cd32"/>
<rect x="315" y="292" width="1" height="26" fill="#ff4500"/>
<rect x="313" y="293" width="5" height="14" fill="#ff4500"/>
<rect x="323" y="279" width="1" height="22" fill="#ff4500"/>
<rect x="321" y="280" width="5" height="14" fill="#ff4500"/>
<rect x="331" y="279" width="1" height="18" fill="#32cd32"/>
<rect x="329" y="279" width="5" height="16" fill="#32cd32"/>
<rect x="339" y="289" width="1" height="45" fill="#32cd32"/>
<rect x="337" y="295" width="5" height="14" fill="#32cd32"/>
<rect x="347" y="232" width="1" height="90" fill="#ff4500"/>
<rect x="345" y="243" width="5" height="68" fill="#ff4500"/>
<rect x="355" y="235" width="1" height="120" fill="#32cd32"/>
<rect x="353" y="244" width="5" height="95" fill="#32cd32"/>
<rect x="363" y="321" width="1" height="24" fill="#ff4500"/>
<rect x="361" y="335" width="5" height="4" fill="#ff4500"/>
<rect x="371" y="314" width="1" height="44" fill="#32cd32"/>
<rect x="369" y="335" width="5" height="13" fill="#32cd32"/>
<rect x="379" y="333" width="1" height="19" fill="#ff4500"/>
<rect x="377" y="338" width="5" height="10" fill="#ff4500"/>
<rect x="387" y="335" width="1" height="37" fill="#32cd32"/>
<rect x="385" y="339" width="5" height="4" fill="#32cd32"/>
<rect x="395" y="279" width="1" height="86" fill="#ff4500"/>
<rect x="393" y="286" width="5" height="55" fill="#ff4500"/>
<rect x="403" y="213" width="1" height="85" fill="#ff4500"/>
<rect x="401" y="235" width="5" height="53" fill="#ff4500"/>
<rect x="411" y="232" width="1" height="8" fill="#ff4500"/>
<rect x="409" y="232" width="5" height="3" fill="#ff4500"/>
<rect x="419" y="227" width="1" height="22" fill="#32cd32"/>
<rect x="417" y="235" width="5" height="8" fill="#32cd32"/>
<rect x="427" y="226" width="1" height="33" fill="#32cd32"/>
<rect x="425" y="241" width="5" height="4" fill="#32cd32"/>
<rect x="435" y="211" width="1" height="41" fill="#ff4500"/>
<rect x="433" y="221" width="5" height="22" fill="#ff4500"/>
<rect x="443" y="205" width="1" height="48" fill="#32cd32"/>
<rect x="441" y="220" width="5" height="27" fill="#32cd32"/>
<rect x="451" y="244" width="1" height="133" fill="#32cd32"/>
<rect x="449" y="247" width="5" height="98" fill="#32cd32"/>
<rect x="459" y="270" width="1" height="75" fill="#ff4500"/>
<rect x="457" y="272" width="5" height="73" fill="#ff4500"/>
<rect x="467" y="265" width="1" height="15" fill="#32cd32"/>
<rect x="465" y="272" width="5" height="4" fill="#32cd32"/>
<rect x="475" y="267" width="1" height="18" fill="#ff4500"/>
<rect x="473" y="270" width="5" height="7" fill="#ff4500"/>
<rect x="483" y="263" width="1" height="19" fill="#32cd32"/>
<rect x="481" y="270" width="5" height="11" fill="#32cd32"/>
<rect x="491" y="244" width="1" height="57" fill="#32cd32"/>
<rect x="489" y="279" width="5" height="7" fill="#32cd32"/>
<rect x="499" y="284" width="1" height="70" fill="#32cd32"/>
<rect x="497" y="285" width="5" height="11" fill="#32cd32"/>
<rect x="507" y="294" width="1" height="71" fill="#32cd32"/>
<rect x="505" y="294" width="5" height="57" fill="#32cd32"/>
<rect x="515" y="340" width="1" height="15" fill="#ff4500"/>
<rect x="513" y="342" width="5" height="9" fill="#ff4500"/>
<rect x="523" y="338" width="1" height="20" fill="#32cd32"/>
<rect x="521" y="343" width="5" height="11" fill="#32cd32"/>
<rect x="531" y="345" width="1" height="25" fill="#32cd32"/>
<rect x="529" y="354" width="5" height="11" fill="#32cd32"/>
<rect x="539" y="356" width="1" height="51" fill="#32cd32"/>
<rect x="537" y="365" width="5" height="21" fill="#32cd32"/>
<rect x="547" y="320" width="1" height="78" fill="#ff4500"/>
<rect x="545" y="323" width="5" height="62" fill="#ff4500"/>
<rect x="555" y="308" width="1" height="33" fill="#32cd32"/>
<rect x="553" y="324" width="5" height="12" fill="#32cd32"/>
<rect x="563" y="325" width="1" height="11" fill="#ff4500"/>
<rect x="561" y="331" width="5" height="4" fill="#ff4500"/>
<rect x="571" y="329" width="1" height="19" fill="#32cd32"/>
<rect x="569" y="330" width="5" height="5" fill="#32cd32"/>
<rect x="579" y="334" width="1" height="26" fill="#32cd32"/>
<rect x="577" y="335" width="5" height="23" fill="#32cd32"/>
<rect x="587" y="313" width="1" height="55" fill="#32cd32"/>
<rect x="585" y="358" width="5" height="5" fill="#32cd32"/>
<rect x="595" y="347" width="1" height="76" fill="#32cd32"/>
<rect x="593" y="363" width="5" height="58" fill="#32cd32"/>
<rect x="603" y="416" width="1" height="67" fill="#000"/>
<rect x="601" y="421" width="5" height="1" fill="#000"/>
<rect x="611" y="418" width="1" height="15" fill="#32cd32"/>
<rect x="609" y="419" width="5" height="14" fill="#32cd32"/>
<rect x="619" y="422" width="1" height="35" fill="#32cd32"/>
<rect x="617" y="434" width="5" height="22" fill="#32cd32"/>
<rect x="627" y="445" width="1" height="18" fill="#ff4500"/>
<rect x="625" y="450" width="5" height="7" fill="#ff4500"/>
<rect x="635" y="420" width="1" height="35" fill="#ff4500"/>
<rect x="633" y="449" width="5" height="2" fill="#ff4500"/>
<rect x="643" y="398" width="1" height="53" fill="#ff4500"/>
<rect x="641" y="415" width="5" height="36" fill="#ff4500"/>
<rect x="651" y="408" width="1" height="46" fill="#32cd32"/>
<rect x="649" y="415" width="5" height="4" fill="#32cd32"/>
<rect x="659" y="416" width="1" height="8" fill="#000"/>
<rect x="657" y="418" width="5" height="1" fill="#000"/>
<rect x="667" y="414" width="1" height="21" fill="#32cd32"/>
<rect x="665" y="421" width="5" height="13" fill="#32cd32"/>
<rect x="675" y="432" width="1" height="43" fill="#32cd32"/>
<rect x="673" y="432" width="5" height="31" fill="#32cd32"/>
<rect x="683" y="447" width="1" height="23" fill="#ff4500"/>
<rect x="681" y="457" width="5" height="6" fill="#ff4500"/>
<rect x="691" y="428" width="1" height="48" fill="#ff4500"/>
<rect x="689" y="448" width="5" height="10" fill="#ff4500"/>
<rect x="699" y="421" width="1" height="98" fill="#32cd32"/>
<rect x="697" y="449" width="5" height="50" fill="#32cd32"/>
<rect x="707" y="424" width="1" height="97" fill="#ff4500"/>
<rect x="705" y="442" width="5" height="56" fill="#ff4500"/>
<rect x="715" y="433" width="1" height="17" fill="#ff4500"/>
<rect x="713" y="439" width="5" height="5" fill="#ff4500"/>
<rect x="723" y="403" width="1" height="39" fill="#ff4500"/>
<rect x="721" y="413" width="5" height="26" fill="#ff4500"/>
<rect x="731" y="412" width="1" height="19" fill="#32cd32"/>
<rect x="729" y="414" width="5" height="11" fill="#32cd32"/>
<rect x="739" y="366" width="1" height="58" fill="#ff4500"/>
<rect x="737" y="366" width="5" height="58" fill="#ff4500"/>
<rect x="747" y="324" width="1" height="62" fill="#32cd32"/>
<rect x="745" y="367" width="5" height="5" fill="#32cd32"/>
<rect x="755" y="341" width="1" height="61" fill="#32cd32"/>
<rect x="753" y="370" width="5" height="18" fill="#32cd32"/>
<rect x="763" y="359" width="1" height="38" fill="#ff4500"/>
<rect x="761" y="364" width="5" height="23" fill="#ff4500"/>
<rect x="771" y="345" width="1" height="23" fill="#ff4500"/>
<rect x="769" y="349" width="5" height="16" fill="#ff4500"/>
<rect x="779" y="348" width="1" height="17" fill="#32cd32"/>
<rect x="777" y="350" width="5" height="13" fill="#32cd32"/>
<rect x="787" y="335" width="1" height="39" fill="#ff4500"/>
<rect x="785" y="338" width="5" height="26" fill="#ff4500"/>
<rect x="795" y="295" width="1" height="84" fill="#ff4500"/>
<rect x="793" y="317" width="5" height="22" fill="#ff4500"/>
<rect x="803" y="286" width="1" height="55" fill="#32cd32"/>
<rect x="801" y="317" width="5" height="21" fill="#32cd32"/>
<rect x="811" y="298" width="1" height="9" fill="#ff4500"/>
<rect x="809" y="300" width="5" height="2" fill="#ff4500"/>
<rect x="819" y="284" width="1" height="21" fill="#ff4500"/>
<rect x="817" y="288" width="5" height="14" fill="#ff4500"/>
<rect x="827" y="258" width="1" height="33" fill="#ff4500"/>
<rect x="825" y="263" width="5" height="27" fill="#ff4500"/>
<rect x="835" y="252" width="1" height="30" fill="#32cd32"/>
<rect x="833" y="263" width="5" height="8" fill="#32cd32"/>
<rect x="843" y="263" width="1" height="98" fill="#32cd32"/>
<rect x="841" y="270" width="5" height="41" fill="#32cd32"/>
<rect x="851" y="260" width="1" height="61" fill="#ff4500"/>
<rect x="849" y="265" width="5" height="47" fill="#ff4500"/>
<rect x="859" y="259" width="1" height="13" fill="#ff4500"/>
<rect x="857" y="260" width="5" height="5" fill="#ff4500"/>
<rect x="867" y="233" width="1" height="31" fill="#ff4500"/>
<rect x="865" y="256" width="5" height="4" fill="#ff4500"/>
<rect x="875" y="247" width="1" height="25" fill="#32cd32"/>
<rect x="873" y="255" width="5" height="11" fill="#32cd32"/>
<rect x="883" y="243" width="1" height="42" fill="#32cd32"/>
<rect x="881" y="265" width="5" height="3" fill="#32cd32"/>
<rect x="891" y="190" width="1" height="78" fill="#ff4500"/>
<rect x="889" y="210" width="5" height="58" fill="#ff4500"/>
<rect x="899" y="174" width="1" height="53" fill="#ff4500"/>
<rect x="897" y="179" width="5" height="30" fill="#ff4500"/>
<rect x="907" y="176" width="1" height="8" fill="#ff4500"/>
<rect x="905" y="176" width="5" height="5" fill="#ff4500"/>
<rect x="915" y="160" width="1" height="21" fill="#ff4500"/>
<rect x="913" y="164" width="5" height="13" fill="#ff4500"/>
<rect x="923" y="151" width="1" height="28" fill="#32cd32"/>
<rect x="921" y="166" width="5" height="11" fill="#32cd32"/>
<rect x="931" y="152" width="1" height="25" fill="#ff4500"/>
<rect x="929" y="156" width="5" height="21" fill="#ff4500"/>
<rect x="939" y="142" width="1" height="35" fill="#32cd32"/>
<rect x="937" y="157" width="5" height="15" fill="#32cd32"/>
<rect x="947" y="136" width="1" height="39" fill="#ff4500"/>
<rect x="945" y="162" width="5" height="10" fill="#ff4500"/>
<rect x="955" y="159" width="1" height="13" fill="#000"/>
<rect x="953" y="163" width="5" height="1" fill="#000"/>
<rect x="963" y="155" width="1" height="17" fill="#32cd32"/>
<rect x="961" y="156" width="5" height="14" fill="#32cd32"/>
<rect x="971" y="163" width="1" height="23" fill="#32cd32"/>
<rect x="969" y="168" width="5" height="10" fill="#32cd32"/>
<rect x="979" y="157" width="1" height="22" fill="#ff4500"/>
<rect x="977" y="158" width="5" height="19" fill="#ff4500"/>
<rect x="987" y="144" width="1" height="31" fill="#ff4500"/>
<rect x="985" y="149" width="5" height="11" fill="#ff4500"/>
<rect x="995" y="147" width="1" height="65" fill="#32cd32"/>
<rect x="993" y="150" width="5" height="45" fill="#32cd32"/>
<rect x="1003" y="152" width="1" height="42" fill="#ff4500"/>
<rect x="1001" y="162" width="5" height="32" fill="#ff4500"/>
<rect x="1011" y="154" width="1" height="16" fill="#32cd32"/>
<rect x="1009" y="162" width="5" height="6" fill="#32cd32"/>
<rect x="1019" y="134" width="1" height="43" fill="#ff4500"/>
<rect x="1017" y="147" width="5" height="20" fill="#ff4500"/>
<rect x="1027" y="143" width="1" height="18" fill="#32cd32"/>
<rect x="1025" y="146" width="5" height="3" fill="#32cd32"/>
<rect x="1035" y="145" width="1" height="42" fill="#32cd32"/>
<rect x="1033" y="148" width="5" height="36" fill="#32cd32"/>
<rect x="1043" y="136" width="1" height="67" fill="#ff4500"/>
<rect x="1041" y="140" width="5" height="44" fill="#ff4500"/>
<rect x="1051" y="77" width="1" height="64" fill="#ff4500"/>
<rect x="1049" y="98" width="5" height="42" fill="#ff4500"/>
<rect x="1059" y="94" width="1" height="19" fill="#32cd32"/>
<rect x="1057" y="99" width="5" height="5" fill="#32cd32"/>
<rect x="1067" y="86" width="1" height="35" fill="#ff4500"/>
<rect x="1065" y="88" width="5" height="15" fill="#ff4500"/>
<rect x="1075" y="83" width="1" height="15" fill="#32cd32"/>
<rect x="1073" y="88" width="5" height="9" fill="#32cd32"/>
<rect x="1083" y="77" width="1" height="37" fill="#ff4500"/>
<rect x="1081" y="89" width="5" height="7" fill="#ff4500"/>
<rect x="1091" y="88" width="1" height="47" fill="#32cd32"/>
<rect x="1089" y="90" width="5" height="39" fill="#32cd32"/>
<rect x="1099" y="106" width="1" height="37" fill="#ff4500"/>
<rect x="1097" y="124" width="5" height="8" fill="#ff4500"/>
<rect x="1107" y="123" width="1" height="15" fill="#32cd32"/>
<rect x="1105" y="125" width="5" height="3" fill="#32cd32"/>
<rect x="1115" y="118" width="1" height="13" fill="#32cd32"/>
<rect x="1113" y="126" width="5" height="2" fill="#32cd32"/>
<rect x="1123" y="104" width="1" height="26" fill="#ff4500"/>
<rect x="1121" y="110" width="5" height="19" fill="#ff4500"/>
<rect x="1131" y="80" width="1" height="38" fill="#ff4500"/>
<rect x="1129" y="84" width="5" height="25" fill="#ff4500"/>
<rect x="1139" y="61" width="1" height="41" fill="#32cd32"/>
<rect x="1137" y="84" width="5" height="1" fill="#32cd32"/>
<rect x="1147" y="79" width="1" height="27" fill="#32cd32"/>
<rect x="1145" y="84" width="5" height="22" fill="#32cd32"/>
<rect x="1155" y="101" width="1" height="6" fill="#32cd32"/>
<rect x="1153" y="104" width="5" height="3" fill="#32cd32"/>
<rect x="1163" y="93" width="1" height="15" fill="#ff4500"/>
<rect x="1161" y="93" width="5" height="13" fill="#ff4500"/>
<rect x="1171" y="80" width="1" height="35" fill="#32cd32"/>
<rect x="1169" y="92" width="5" height="19" fill="#32cd32"/>
<rect x="1179" y="101" width="1" height="15" fill="#ff4500"/>
<rect x="1177" y="105" width="5" height="7" fill="#ff4500"/>
<rect x="1187" y="82" width="1" height="39" fill="#ff4500"/>
<rect x="1185" y="91" width="5" height="14" fill="#ff4500"/>
<rect x="1195" y="91" width="1" height="122" fill="#32cd32"/>
<rect x="1193" y="91" width="5" height="114" fill="#32cd32"/>
<rect x="1203" y="200" width="1" height="52" fill="#32cd32"/>
<rect x="1201" y="204" width="5" height="29" fill="#32cd32"/>
<rect x="1211" y="223" width="1" height="13" fill="#ff4500"/>
<rect x="1209" y="225" width="5" height="9" fill="#ff4500"/>
<rect x="1219" y="217" width="1" height="40" fill="#32cd32"/>
<rect x="1217" y="225" width="5" height="22" fill="#32cd32"/>
<rect x="1227" y="233" width="1" height="19" fill="#ff4500"/>
<rect x="1225" y="237" width="5" height="11" fill="#ff4500"/>
<rect x="1235" y="212" width="1" height="34" fill="#ff4500"/>
<rect x="1233" y="225" width="5" height="13" fill="#ff4500"/>
<rect x="1243" y="197" width="1" height="46" fill="#ff4500"/>
<rect x="1241" y="216" width="5" height="10" fill="#ff4500"/>
<rect x="1251" y="189" width="1" height="50" fill="#ff4500"/>
<rect x="1249" y="210" width="5" height="9" fill="#ff4500"/>
<rect x="1259" y="182" width="1" height="38" fill="#ff4500"/>
<rect x="1257" y="185" width="5" height="27" fill="#ff4500"/>
<rect x="1267" y="182" width="1" height="14" fill="#32cd32"/>
<rect x="1265" y="184" width="5" height="9" fill="#32cd32"/>
<rect x="1275" y="182" width="1" height="22" fill="#32cd32"/>
<rect x="1273" y="192" width="5" height="1" fill="#32cd32"/>
<rect x="1283" y="146" width="1" height="61" fill="#ff4500"/>
<rect x="1281" y="148" width="5" height="45" fill="#ff4500"/>
<rect x="1291" y="104" width="1" height="62" fill="#ff4500"/>
<rect x="1289" y="106" width="5" height="43" fill="#ff4500"/>
<rect x="1299" y="90" width="1" height="35" fill="#32cd32"/>
<rect x="1297" y="106" width="5" height="17" fill="#32cd32"/>
<rect x="1307" y="114" width="1" height="10" fill="#ff4500"/>
<rect x="1305" y="118" width="5" height="6" fill="#ff4500"/>
</g>
<polygon points="1310,37 1321,37 1315.5,43" fill="#c0c0c0"/>
<g shape-rendering="crispEdges">
<rect x="11" y="562" width="1" height="10" fill="#c0c0c0"/>
<rect x="19" y="565" width="1" height="7" fill="#c0c0c0"/>
<rect x="27" y="566" width="1" height="6" fill="#c0c0c0"/>
<rect x="35" y="566" width="1" height="6" fill="#c0c0c0"/>
<rect x="43" y="567" width="1" height="5" fill="#c0c0c0"/>
<rect x="51" y="569" width="1" height="3" fill="#c0c0c0"/>
<rect x="59" y="571" width="1" height="1" fill="#c0c0c0"/>
<rect x="67" y="572" width="1" height="1" fill="#c0c0c0"/>
<rect x="75" y="572" width="1" height="3" fill="#c0c0c0"/>
<rect x="83" y="572" width="1" height="4" fill="#c0c0c0"/>
<rect x="91" y="572" width="1" height="5" fill="#c0c0c0"/>
<rect x="99" y="572" width="1" height="6" fill="#c0c0c0"/>
<rect x="107" y="572" width="1" height="4" fill="#c0c0c0"/>
<rect x="115" y="572" width="1" height="2" fill="#c0c0c0"/>
<rect x="123" y="572" width="1" height="1" fill="#c0c0c0"/>
<rect x="131" y="570" width="1" height="2" fill="#c0c0c0"/>
<rect x="139" y="570" width="1" height="2" fill="#c0c0c0"/>
<rect x="147" y="569" width="1" height="3" fill="#c0c0c0"/>
<rect x="155" y="568" width="1" height="4" fill="#c0c0c0"/>
<rect x="163" y="567" width="1" height="5" fill="#c0c0c0"/>
<rect x="171" y="567" width="1" height="5" fill="#c0c0c0"/>
<rect x="179" y="568" width="1" height="4" fill="#c0c0c0"/>
<rect x="187" y="569" width="1" height="3" fill="#c0c0c0"/>
<rect x="195" y="570" width="1" height="2" fill="#c0c0c0"/>
<rect x="203" y="572" width="1" height="2" fill="#c0c0c0"/>
<rect x="211" y="572" width="1" height="6" fill="#c0c0c0"/>
<rect x="219" y="572" width="1" height="8" fill="#c0c0c0"/>
<rect x="227" y="572" width="1" height="10" fill="#c0c0c0"/>
<rect x="235" y="572" width="1" height="11" fill="#c0c0c0"/>
<rect x="243" y="572" width="1" height="11" fill="#c0c0c0"/>
<rect x="251" y="572" width="1" height="6" fill="#c0c0c0"/>
<rect x="259" y="572" width="1" height="4" fill="#c0c0c0"/>
<rect x="267" y="572" width="1" height="2" fill="#c0c0c0"/>
<rect x="275" y="572" width="1" height="1" fill="#c0c0c0"/>
<rect x="283" y="572" width="1" height="1" fill="#c0c0c0"/>
<rect x="291" y="569" width="1" height="3" fill="#c0c0c0"/>
<rect x="299" y="566" width="1" height="6" fill="#c0c0c0"/>
<rect x="307" y="562" width="1" height="10" fill="#c0c0c0"/>
<rect x="315" y="560" width="1" height="12" fill="#c0c0c0"/>
<rect x="323" y="557" width="1" height="15" fill="#c0c0c0"/>
<rect x="331" y="555" width="1" height="17" fill="#c0c0c0"/>
<rect x="339" y="555" width="1" height="17" fill="#c0c0c0"/>
<rect x="347" y="553" width="1" height="19" fill="#c0c0c0"/>
<rect x="355" y="554" width="1" height="18" fill="#c0c0c0"/>
<rect x="363" y="557" width="1" height="15" fill="#c0c0c0"/>
<rect x="371" y="559" width="1" height="13" fill="#c0c0c0"/>
<rect x="379" y="561" width="1" height="11" fill="#c0c0c0"/>
<rect x="387" y="563" width="1" height="9" fill="#c0c0c0"/>
<rect x="395" y="562" width="1" height="10" fill="#c0c0c0"/>
<rect x="403" y="557" width="1" height="15" fill="#c0c0c0"/>
<rect x="411" y="556" width="1" height="16" fill="#c0c0c0"/>
<rect x="419" y="554" width="1" height="18" fill="#c0c0c0"/>
<rect x="427" y="553" width="1" height="19" fill="#c0c0c0"/>
<rect x="435" y="551" width="1" height="21" fill="#c0c0c0"/>
<rect x="443" y="551" width="1" height="21" fill="#c0c0c0"/>
<rect x="451" y="555" width="1" height="17" fill="#c0c0c0"/>
<rect x="459" y="558" width="1" height="14" fill="#c0c0c0"/>
<rect x="467" y="559" width="1" height="13" fill="#c0c0c0"/>
<rect x="475" y="559" width="1" height="13" fill="#c0c0c0"/>
<rect x="483" y="560" width="1" height="12" fill="#c0c0c0"/>
<rect x="491" y="561" width="1" height="11" fill="#c0c0c0"/>
<rect x="499" y="564" width="1" height="8" fill="#c0c0c0"/>
<rect x="507" y="567" width="1" height="5" fill="#c0c0c0"/>
<rect x="515" y="570" width="1" height="2" fill="#c0c0c0"/>
<rect x="523" y="572" width="1" height="1" fill="#c0c0c0"/>
<rect x="531" y="572" width="1" height="3" fill="#c0c0c0"/>
<rect x="539" y="572" width="1" height="6" fill="#c0c0c0"/>
<rect x="547" y="572" width="1" height="6" fill="#c0c0c0"/>
<rect x="555" y="572" width="1" height="6" fill="#c0c0c0"/>
<rect x="563" y="572" width="1" height="6" fill="#c0c0c0"/>
<rect x="571" y="572" width="1" height="6" fill="#c0c0c0"/>
<rect x="579" y="572" width="1" height="6" fill="#c0c0c0"/>
<rect x="587" y="572" width="1" height="7" fill="#c0c0c0"/>
<rect x="595" y="572" width="1" height="10" fill="#c0c0c0"/>
<rect x="603" y="572" width="1" height="13" fill="#c0c0c0"/>
<rect x="611" y="572" width="1" height="16" fill="#c0c0c0"/>
<rect x="619" y="572" width="1" height="19" fill="#c0c0c0"/>
<rect x="627" y="572" width="1" height="21" fill="#c0c0c0"/>
<rect x="635" y="572" width="1" height="22" fill="#c0c0c0"/>
<rect x="643" y="572" width="1" height="21" fill="#c0c0c0"/>
<rect x="651" y="572" width="1" height="21" fill="#c0c0c0"/>
<rect x="659" y="572" width="1" height="20" fill="#c0c0c0"/>
<rect x="667" y="572" width="1" height="20" fill="#c0c0c0"/>
<rect x="675" y="572" width="1" height="21" fill="#c0c0c0"/>
<rect x="683" y="572" width="1" height="21" fill="#c0c0c0"/>
<rect x="691" y="572" width="1" height="21" fill="#c0c0c0"/>
<rect x="699" y="572" width="1" height="22" fill="#c0c0c0"/>
<rect x="707" y="572" width="1" height="21" fill="#c0c0c0"/>
<rect x="715" y="572" width="1" height="20" fill="#c0c0c0"/>
<rect x="723" y="572" width="1" height="17" fill="#c0c0c0"/>
<rect x="731" y="572" width="1" height="14" fill="#c0c0c0"/>
<rect x="739" y="572" width="1" height="11" fill="#c0c0c0"/>
<rect x="747" y="572" width="1" height="7" fill="#c0c0c0"/>
<rect x="755" y="572" width="1" height="5" fill="#c0c0c0"/>
<rect x="763" y="572" width="1" height="3" fill="#c0c0c0"/>
<rect x="771" y="572" width="1" height="1" fill="#c0c0c0"/>
<rect x="779" y="571" width="1" height="1" fill="#c0c0c0"/>
<rect x="787" y="569" width="1" height="3" fill="#c0c0c0"/>
<rect x="795" y="566" width="1" height="6" fill="#c0c0c0"/>
<rect x="803" y="564" width="1" height="8" fill="#c0c0c0"/>
<rect x="811" y="562" width="1" height="10" fill="#c0c0c0"/>
<rect x="819" y="559" width="1" height="13" fill="#c0c0c0"/>
<rect x="827" y="556" width="1" height="16" fill="#c0c0c0"/>
<rect x="835" y="554" width="1" height="18" fill="#c0c0c0"/>
<rect x="843" y="555" width="1" height="17" fill="#c0c0c0"/>
<rect x="851" y="554" width="1" height="18" fill="#c0c0c0"/>
<rect x="859" y="553" width="1" height="19" fill="#c0c0c0"/>
<rect x="867" y="552" width="1" height="20" fill="#c0c0c0"/>
<rect x="875" y="551" width="1" height="21" fill="#c0c0c0"/>
<rect x="883" y="551" width="1" height="21" fill="#c0c0c0"/>
<rect x="891" y="550" width="1" height="22" fill="#c0c0c0"/>
<rect x="899" y="547" width="1" height="25" fill="#c0c0c0"/>
<rect x="907" y="545" width="1" height="27" fill="#c0c0c0"/>
<rect x="915" y="543" width="1" height="29" fill="#c0c0c0"/>
<rect x="923" y="542" width="1" height="30" fill="#c0c0c0"/>
<rect x="931" y="541" width="1" height="31" fill="#c0c0c0"/>
<rect x="939" y="540" width="1" height="32" fill="#c0c0c0"/>
<rect x="947" y="540" width="1" height="32" fill="#c0c0c0"/>
<rect x="955" y="541" width="1" height="31" fill="#c0c0c0"/>
<rect x="963" y="542" width="1" height="30" fill="#c0c0c0"/>
<rect x="971" y="543" width="1" height="29" fill="#c0c0c0"/>
<rect x="979" y="544" width="1" height="28" fill="#c0c0c0"/>
<rect x="987" y="545" width="1" height="27" fill="#c0c0c0"/>
<rect x="995" y="547" width="1" height="25" fill="#c0c0c0"/>
<rect x="1003" y="549" width="1" height="23" fill="#c0c0c0"/>
<rect x="1011" y="550" width="1" height="22" fill="#c0c0c0"/>
<rect x="1019" y="550" width="1" height="22" fill="#c0c0c0"/>
<rect x="1027" y="551" width="1" height="21" fill="#c0c0c0"/>
<rect x="1035" y="553" width="1" height="19" fill="#c0c0c0"/>
<rect x="1043" y="553" width="1" height="19" fill="#c0c0c0"/>
<rect x="1051" y="552" width="1" height="20" fill="#c0c0c0"/>
<rect x="1059" y="551" width="1" height="21" fill="#c0c0c0"/>
<rect x="1067" y="550" width="1" height="22" fill="#c0c0c0"/>
<rect x="1075" y="550" width="1" height="22" fill="#c0c0c0"/>
<rect x="1083" y="549" width="1" height="23" fill="#c0c0c0"/>
<rect x="1091" y="550" width="1" height="22" fill="#c0c0c0"/>
<rect x="1099" y="552" width="1" height="20" fill="#c0c0c0"/>
<rect x="1107" y="554" width="1" height="18" fill="#c0c0c0"/>
<rect x="1115" y="555" width="1" height="17" fill="#c0c0c0"/>
<rect x="1123" y="556" width="1" height="16" fill="#c0c0c0"/>
<rect x="1131" y="555" width="1" height="17" fill="#c0c0c0"/>
<rect x="1139" y="555" width="1" height="17" fill="#c0c0c0"/>
<rect x="1147" y="556" width="1" height="16" fill="#c0c0c0"/>
<rect x="1155" y="556" width="1" height="16" fill="#c0c0c0"/>
<rect x="1163" y="557" width="1" height="15" fill="#c0c0c0"/>
<rect x="1171" y="558" width="1" height="14" fill="#c0c0c0"/>
<rect x="1179" y="559" width="1" height="13" fill="#c0c0c0"/>
<rect x="1187" y="560" width="1" height="12" fill="#c0c0c0"/>
<rect x="1195" y="564" width="1" height="8" fill="#c0c0c0"/>
<rect x="1203" y="571" width="1" height="1" fill="#c0c0c0"/>
<rect x="1211" y="572" width="1" height="3" fill="#c0c0c0"/>
<rect x="1219" y="572" width="1" height="7" fill="#c0c0c0"/>
<rect x="1227" y="572" width="1" height="10" fill="#c0c0c0"/>
<rect x="1235" y="572" width="1" height="12" fill="#c0c0c0"/>
<rect x="1243" y="572" width="1" height="13" fill="#c0c0c0"/>
<rect x="1251" y="572" width="1" height="13" fill="#c0c0c0"/>
<rect x="1259" y="572" width="1" height="13" fill="#c0c0c0"/>
<rect x="1267" y="572" width="1" height="11" fill="#c0c0c0"/>
<rect x="1275" y="572" width="1" height="11" fill="#c0c0c0"/>
<rect x="1283" y="572" width="1" height="9" fill="#c0c0c0"/>
<rect x="1291" y="572" width="1" height="5" fill="#c0c0c0"/>
<rect x="1299" y="572" width="1" height="1" fill="#c0c0c0"/>
<rect x="1307" y="572" width="1" height="1" fill="#c0c0c0"/>
</g>
<polyline points="10.6,549.6 21.0,551.7 34.0,554.8 46.9,559.4 59.9,563.9 72.9,567.2 85.9,569.8 98.9,572.4 111.8,573.7 122.2,575.0 132.6,574.2 148.2,572.9 163.8,570.9 176.7,569.0 189.7,568.3 202.7,568.3 215.7,569.8 228.7,572.9 241.6,575.0 252.0,578.1 267.6,579.4 278.0,578.9 288.4,577.4 298.8,575.0 309.1,571.6 319.5,567.7 332.5,564.6 345.5,560.7 355.9,557.9 371.4,556.6 384.4,556.6 397.4,557.4 410.4,557.4 423.4,556.8 436.3,556.1 446.7,554.8 455.6,554.2 478.9,554.2 494.5,555.5 504.9,558.1 517.9,560.0 530.9,563.9 543.8,567.7 556.8,571.6 569.8,574.8 580.2,576.3 595.8,578.1 608.7,580.2 621.7,582.0 634.7,585.1 647.7,588.0 660.7,589.8 673.6,592.4 686.6,593.2 699.6,593.4 712.6,592.9 725.6,592.4 738.5,591.6 751.5,588.5 764.5,585.1 777.5,580.7 790.5,576.8 803.4,573.7 816.4,569.0 829.4,564.6 842.4,560.7 855.4,557.9 868.3,555.3 878.7,554.0 885.0,552.7 898.0,551.4 910.9,549.6 923.9,547.5 936.9,545.2 949.9,543.1 960.3,541.5 975.8,541.3 991.4,541.3 1001.8,542.3 1014.8,544.4 1027.8,545.9 1038.1,547.5 1053.7,549.6 1064.1,550.4 1079.7,550.4 1105.6,550.4 1131.6,551.7 1149.8,552.2 1157.6,553.5 1170.5,554.8 1183.5,555.5 1196.5,557.4 1204.3,558.7 1214.7,562.6 1225.1,566.5 1235.4,570.3 1245.8,574.2 1256.2,578.1 1266.6,580.7 1277.0,582.5 1287.4,583.3 1297.8,582.5 1304.2,581.5" fill="none" stroke="#ff0000" stroke-width="1" stroke-dasharray="3 3" shape-rendering="crispEdges"/>
<g shape-rendering="crispEdges">
<line x1="11" y1="639.5" x2="1644" y2="639.5" stroke="#c0c0c0" stroke-width="1" stroke-dasharray="3 3"/>
<line x1="11" y1="689.5" x2="1644" y2="689.5" stroke="#c0c0c0" stroke-width="1" stroke-dasharray="3 3"/>
</g>
<path d="M11 668h1v1h-1zM12 667h6v1h-6zM18 666h4v1h-4zM22 665h4v1h-4zM26 664h3v1h-3zM29 663h3v1h-3zM32 662h2v1h-2zM34 661h7v1h-7zM41 660h3v1h-3zM44 661h1v1h-1zM45 662h1v1h-1zM46 663h1v1h-1zM47 664h1v1h-1zM48 665h2v1h-2zM50 666h1v1h-1zM51 667h1v1h-1zM52 668h3v1h-3zM55 669h3v1h-3zM58 670h3v1h-3zM61 671h2v1h-2zM63 672h3v1h-3zM66 673h11v1h-11zM77 674h6v1h-6zM83 675h1v1h-1zM84 674h6v1h-6zM90 673h2v1h-2zM92 672h1v1h-1zM93 671h1v1h-1zM94 670h1v1h-1zM95 669h1v1h-1zM96 668h1v1h-1zM97 667h1v1h-1zM98 666h1v1h-1zM99 665h2v1h-2zM101 664h1v1h-1zM102 663h1v1h-1zM103 662h2v1h-2zM105 661h1v1h-1zM106 660h1v1h-1zM107 659h1v1h-1zM108 660h5v1h-5zM113 661h3v1h-3zM116 659h1v2h-1zM117 658h1v1h-1zM118 657h1v1h-1zM119 655h1v2h-1zM120 654h1v1h-1zM121 653h1v1h-1zM122 651h1v2h-1zM123 650h1v1h-1zM124 651h3v1h-3zM127 652h2v1h-2zM129 653h3v1h-3zM132 654h1v1h-1zM133 655h1v2h-1zM134 657h1v1h-1zM135 658h1v1h-1zM136 659h1v1h-1zM137 660h1v1h-1zM138 661h1v1h-1zM139 662h2v1h-2zM141 661h2v1h-2zM143 660h2v1h-2zM145 659h2v1h-2zM147 658h2v1h-2zM149 657h3v1h-3zM152 656h2v1h-2zM154 655h3v1h-3zM157 656h4v1h-4zM161 657h3v1h-3zM164 658h2v1h-2zM166 659h1v1h-1zM167 660h2v1h-2zM169 661h2v1h-2zM171 662h5v1h-5zM176 661h4v1h-4zM180 662h2v1h-2zM182 663h1v1h-1zM183 664h1v1h-1zM184 665h2v1h-2zM186 666h1v1h-1zM187 667h2v1h-2zM189 668h2v1h-2zM191 669h2v1h-2zM193 670h1v1h-1zM194 671h1v1h-1zM195 671h1v2h-1zM196 673h1v1h-1zM197 674h1v1h-1zM198 675h1v2h-1zM199 677h1v1h-1zM200 678h1v2h-1zM201 680h1v1h-1zM202 681h1v1h-1zM203 682h4v1h-4zM207 681h3v1h-3zM210 680h4v1h-4zM214 679h4v1h-4zM218 678h7v1h-7zM225 677h5v1h-5zM230 678h7v1h-7zM237 677h1v1h-1zM238 676h1v1h-1zM239 675h1v1h-1zM240 674h2v1h-2zM242 673h1v1h-1zM243 671h1v2h-1zM244 669h1v2h-1zM245 667h1v2h-1zM246 665h1v2h-1zM247 663h1v2h-1zM248 660h1v3h-1zM249 658h1v2h-1zM250 656h1v2h-1zM251 655h1v1h-1zM252 656h1v1h-1zM253 657h2v1h-2zM255 658h2v1h-2zM257 659h1v1h-1zM258 660h3v1h-3zM261 659h2v1h-2zM263 658h1v1h-1zM264 657h2v1h-2zM266 656h3v1h-3zM269 655h5v1h-5zM274 654h2v1h-2zM276 655h2v1h-2zM278 656h2v1h-2zM280 657h2v1h-2zM282 658h2v1h-2zM284 657h2v1h-2zM286 656h1v1h-1zM287 655h1v1h-1zM288 654h1v1h-1zM289 653h1v1h-1zM290 652h2v1h-2zM292 651h1v1h-1zM293 650h1v1h-1zM294 649h1v1h-1zM295 648h1v1h-1zM296 647h1v1h-1zM297 646h2v1h-2zM299 645h3v1h-3zM302 646h3v1h-3zM305 647h5v1h-5zM310 646h4v1h-4zM314 645h5v1h-5zM319 644h4v1h-4zM323 643h1v1h-1zM324 644h2v1h-2zM326 645h2v1h-2zM328 646h2v1h-2zM330 647h2v1h-2zM332 648h2v1h-2zM334 649h2v1h-2zM336 650h2v1h-2zM338 651h2v1h-2zM340 650h1v1h-1zM341 649h1v1h-1zM342 647h1v2h-1zM343 646h1v1h-1zM344 645h1v1h-1zM345 644h1v1h-1zM346 643h1v1h-1zM347 642h1v2h-1zM348 644h1v3h-1zM349 647h1v2h-1zM350 649h1v3h-1zM351 652h1v2h-1zM352 654h1v3h-1zM353 657h1v2h-1zM354 659h1v3h-1zM355 662h5v1h-5zM360 661h5v1h-5zM365 662h4v1h-4zM369 663h8v1h-8zM377 662h11v1h-11zM388 661h1v1h-1zM389 660h1v1h-1zM390 659h1v1h-1zM391 658h1v1h-1zM392 657h1v1h-1zM393 656h1v1h-1zM394 655h1v1h-1zM395 654h1v1h-1zM396 653h1v1h-1zM397 652h1v1h-1zM398 651h1v1h-1zM399 650h1v1h-1zM400 649h1v1h-1zM401 648h1v1h-1zM402 647h1v1h-1zM403 646h7v1h-7zM410 645h2v1h-2zM412 646h3v1h-3zM415 647h3v1h-3zM418 648h11v1h-11zM429 647h3v1h-3zM432 646h3v1h-3zM435 645h1v1h-1zM436 646h1v1h-1zM437 647h2v1h-2zM439 648h1v1h-1zM440 649h2v1h-2zM442 650h1v1h-1zM443 651h1v2h-1zM444 653h1v3h-1zM445 656h1v2h-1zM446 658h1v2h-1zM447 660h1v3h-1zM448 663h1v2h-1zM449 665h1v3h-1zM450 668h1v2h-1zM451 670h1v1h-1zM452 668h1v2h-1zM453 667h1v1h-1zM454 666h1v1h-1zM455 664h1v2h-1zM456 663h1v1h-1zM457 662h1v1h-1zM458 660h1v2h-1zM459 659h14v1h-14zM473 658h4v1h-4zM477 659h4v1h-4zM481 660h4v1h-4zM485 661h6v1h-6zM491 662h5v1h-5zM496 663h3v1h-3zM499 663h1v2h-1zM500 665h1v1h-1zM501 666h1v1h-1zM502 667h1v1h-1zM503 668h1v2h-1zM504 670h1v1h-1zM505 671h1v1h-1zM506 672h1v1h-1zM507 673h4v1h-4zM511 672h4v1h-4zM515 671h1v1h-1zM516 672h4v1h-4zM520 673h5v1h-5zM525 674h3v1h-3zM528 675h4v1h-4zM532 676h3v1h-3zM535 677h2v1h-2zM537 678h3v1h-3zM540 676h1v2h-1zM541 675h1v1h-1zM542 673h1v2h-1zM543 671h1v2h-1zM544 670h1v1h-1zM545 668h1v2h-1zM546 666h1v2h-1zM547 665h1v1h-1zM548 666h4v1h-4zM552 667h3v1h-3zM555 668h1v1h-1zM556 667h6v1h-6zM562 666h3v1h-3zM565 667h6v1h-6zM571 668h2v1h-2zM573 669h2v1h-2zM575 670h2v1h-2zM577 671h2v1h-2zM579 672h3v1h-3zM582 673h4v1h-4zM586 674h2v1h-2zM588 675h1v1h-1zM589 676h1v1h-1zM590 677h1v1h-1zM591 678h1v1h-1zM592 679h1v1h-1zM593 680h1v1h-1zM594 681h1v1h-1zM595 682h9v1h-9zM604 683h5v1h-5zM609 684h3v1h-3zM612 685h2v1h-2zM614 686h2v1h-2zM616 687h2v1h-2zM618 688h5v1h-5zM623 687h4v1h-4zM627 686h9v1h-9zM636 684h1v2h-1zM637 683h1v1h-1zM638 682h1v1h-1zM639 680h1v2h-1zM640 679h1v1h-1zM641 678h1v1h-1zM642 676h1v2h-1zM643 675h2v1h-2zM645 676h15v1h-15zM660 677h2v1h-2zM662 678h3v1h-3zM665 679h2v1h-2zM667 680h2v1h-2zM669 681h1v1h-1zM670 682h1v1h-1zM671 683h2v1h-2zM673 684h1v1h-1zM674 685h5v1h-5zM679 684h4v1h-4zM683 683h3v1h-3zM686 682h3v1h-3zM689 681h2v1h-2zM691 680h1v2h-1zM692 682h1v1h-1zM693 683h1v1h-1zM694 684h1v1h-1zM695 685h1v1h-1zM696 686h1v1h-1zM697 687h1v1h-1zM698 688h1v1h-1zM699 688h1v2h-1zM700 686h1v2h-1zM701 684h1v2h-1zM702 682h1v2h-1zM703 680h1v2h-1zM704 678h1v2h-1zM705 676h1v2h-1zM706 673h1v3h-1zM707 672h5v1h-5zM712 671h4v1h-4zM716 670h1v1h-1zM717 669h2v1h-2zM719 668h1v1h-1zM720 667h2v1h-2zM722 666h1v1h-1zM723 665h1v1h-1zM724 666h4v1h-4zM728 667h3v1h-3zM731 667h1v2h-1zM732 665h1v2h-1zM733 664h1v1h-1zM734 662h1v2h-1zM735 661h1v1h-1zM736 659h1v2h-1zM737 658h1v1h-1zM738 656h1v2h-1zM739 655h2v1h-2zM741 656h7v1h-7zM748 657h2v1h-2zM750 658h2v1h-2zM752 659h2v1h-2zM754 660h3v1h-3zM757 659h2v1h-2zM759 658h2v1h-2zM761 657h2v1h-2zM763 656h3v1h-3zM766 655h2v1h-2zM768 654h3v1h-3zM771 653h1v1h-1zM772 654h3v1h-3zM775 655h2v1h-2zM777 656h4v1h-4zM781 655h2v1h-2zM783 654h2v1h-2zM785 653h1v1h-1zM786 652h3v1h-3zM789 651h2v1h-2zM791 650h2v1h-2zM793 649h4v1h-4zM797 650h2v1h-2zM799 651h2v1h-2zM801 652h1v1h-1zM802 653h2v1h-2zM804 652h2v1h-2zM806 651h1v1h-1zM807 650h1v1h-1zM808 649h2v1h-2zM810 648h1v1h-1zM811 647h3v1h-3zM814 646h4v1h-4zM818 645h3v1h-3zM821 644h2v1h-2zM823 643h2v1h-2zM825 642h2v1h-2zM827 641h1v1h-1zM828 642h4v1h-4zM832 643h3v1h-3zM835 643h1v2h-1zM836 645h1v1h-1zM837 646h1v2h-1zM838 648h1v1h-1zM839 649h1v2h-1zM840 651h1v1h-1zM841 652h1v2h-1zM842 654h1v1h-1zM843 655h1v1h-1zM844 654h1v1h-1zM845 653h1v1h-1zM846 652h1v1h-1zM847 651h1v1h-1zM848 650h1v1h-1zM849 649h1v1h-1zM850 648h2v1h-2zM852 647h6v1h-6zM858 646h10v1h-10zM868 647h3v1h-3zM871 648h2v1h-2zM873 649h11v1h-11zM884 648h1v1h-1zM885 647h1v1h-1zM886 646h1v1h-1zM887 645h1v1h-1zM888 644h1v1h-1zM889 642h1v2h-1zM890 641h1v1h-1zM891 640h2v1h-2zM893 639h2v1h-2zM895 638h2v1h-2zM897 637h2v1h-2zM899 636h11v1h-11zM910 635h5v1h-5zM915 634h1v1h-1zM916 635h2v1h-2zM918 636h2v1h-2zM920 637h2v1h-2zM922 638h3v1h-3zM925 637h3v1h-3zM928 636h3v1h-3zM931 635h1v1h-1zM932 636h1v1h-1zM933 637h1v1h-1zM934 638h2v1h-2zM936 639h1v1h-1zM937 640h1v1h-1zM938 641h5v1h-5zM943 640h3v1h-3zM946 639h10v1h-10zM956 640h3v1h-3zM959 641h2v1h-2zM961 642h3v1h-3zM964 643h3v1h-3zM967 644h2v1h-2zM969 645h4v1h-4zM973 644h2v1h-2zM975 643h3v1h-3zM978 642h2v1h-2zM980 641h5v1h-5zM985 640h2v1h-2zM987 640h1v2h-1zM988 642h1v2h-1zM989 644h1v2h-1zM990 646h1v2h-1zM991 648h1v1h-1zM992 649h1v2h-1zM993 651h1v2h-1zM994 653h1v2h-1zM995 655h1v1h-1zM996 654h2v1h-2zM998 653h1v1h-1zM999 652h1v1h-1zM1000 651h2v1h-2zM1002 650h1v1h-1zM1003 649h2v1h-2zM1005 650h8v1h-8zM1013 649h2v1h-2zM1015 648h2v1h-2zM1017 647h2v1h-2zM1019 646h3v1h-3zM1022 647h5v1h-5zM1027 647h1v2h-1zM1028 649h1v1h-1zM1029 650h1v1h-1zM1030 651h1v2h-1zM1031 653h1v1h-1zM1032 654h1v1h-1zM1033 655h1v2h-1zM1034 657h1v1h-1zM1035 658h1v1h-1zM1036 657h1v1h-1zM1037 656h1v1h-1zM1038 655h1v1h-1zM1039 654h1v1h-1zM1040 653h1v1h-1zM1041 652h1v1h-1zM1042 651h1v1h-1zM1043 650h1v1h-1zM1044 649h1v1h-1zM1045 648h1v1h-1zM1046 647h1v1h-1zM1047 646h1v1h-1zM1048 645h1v1h-1zM1049 644h2v1h-2zM1051 643h5v1h-5zM1056 644h6v1h-6zM1062 643h3v1h-3zM1065 642h5v1h-5zM1070 643h3v1h-3zM1073 644h6v1h-6zM1079 643h4v1h-4zM1083 642h1v2h-1zM1084 644h1v2h-1zM1085 646h1v1h-1zM1086 647h1v2h-1zM1087 649h1v1h-1zM1088 650h1v2h-1zM1089 652h1v2h-1zM1090 654h1v1h-1zM1091 655h5v1h-5zM1096 654h7v1h-7zM1103 655h14v1h-14zM1117 654h1v1h-1zM1118 653h2v1h-2zM1120 652h1v1h-1zM1121 651h2v1h-2zM1123 650h2v1h-2zM1125 649h1v1h-1zM1126 648h2v1h-2zM1128 647h2v1h-2zM1130 646h1v1h-1zM1131 645h9v1h-9zM1140 646h1v1h-1zM1141 647h1v1h-1zM1142 648h1v1h-1zM1143 649h1v1h-1zM1144 650h1v1h-1zM1145 651h1v1h-1zM1146 652h1v1h-1zM1147 653h11v1h-11zM1158 652h2v1h-2zM1160 651h3v1h-3zM1163 650h1v1h-1zM1164 651h1v1h-1zM1165 652h1v1h-1zM1166 653h2v1h-2zM1168 654h1v1h-1zM1169 655h1v1h-1zM1170 656h8v1h-8zM1178 655h3v1h-3zM1181 654h2v1h-2zM1183 653h2v1h-2zM1185 652h2v1h-2zM1187 651h1v4h-1zM1188 655h1v3h-1zM1189 658h1v4h-1zM1190 662h1v4h-1zM1191 666h1v3h-1zM1192 669h1v4h-1zM1193 673h1v4h-1zM1194 677h1v3h-1zM1195 680h1v1h-1zM1196 681h2v1h-2zM1198 682h1v1h-1zM1199 683h2v1h-2zM1201 684h1v1h-1zM1202 685h3v1h-3zM1205 684h3v1h-3zM1208 683h3v1h-3zM1211 682h1v1h-1zM1212 683h2v1h-2zM1214 684h2v1h-2zM1216 685h2v1h-2zM1218 686h3v1h-3zM1221 685h3v1h-3zM1224 684h2v1h-2zM1226 683h3v1h-3zM1229 682h2v1h-2zM1231 681h2v1h-2zM1233 680h2v1h-2zM1235 679h3v1h-3zM1238 678h4v1h-4zM1242 677h4v1h-4zM1246 676h5v1h-5zM1251 675h1v1h-1zM1252 674h1v1h-1zM1253 673h1v1h-1zM1254 672h1v1h-1zM1255 671h1v1h-1zM1256 670h1v1h-1zM1257 669h1v1h-1zM1258 668h1v1h-1zM1259 667h1v1h-1zM1260 668h4v1h-4zM1264 669h12v1h-12zM1276 668h1v1h-1zM1277 666h1v2h-1zM1278 665h1v1h-1zM1279 663h1v2h-1zM1280 662h1v1h-1zM1281 661h1v1h-1zM1282 659h1v2h-1zM1283 658h1v1h-1zM1284 657h1v1h-1zM1285 656h1v1h-1zM1286 655h1v1h-1zM1287 654h1v1h-1zM1288 653h1v1h-1zM1289 651h1v2h-1zM1290 650h1v1h-1zM1291 649h1v1h-1zM1292 650h2v1h-2zM1294 651h2v1h-2zM1296 652h2v1h-2zM1298 653h7v1h-7zM1305 652h3v1h-3z" fill="#1e90ff" shape-rendering="crispEdges"/>
<rect x="10" y="36" width="1635" height="1" fill="#000"/>
<rect x="10" y="533" width="1635" height="1" fill="#000"/>
<rect x="10" y="36" width="1" height="498" fill="#000"/>
<rect x="1644" y="36" width="1" height="498" fill="#000"/>
<rect x="10" y="535" width="1635" height="1" fill="#000"/>
<rect x="10" y="597" width="1635" height="1" fill="#000"/>
<rect x="10" y="535" width="1" height="63" fill="#000"/>
<rect x="1644" y="535" width="1" height="63" fill="#000"/>
<rect x="10" y="599" width="1635" height="1" fill="#000"/>
<rect x="10" y="728" width="1635" height="1" fill="#000"/>
<rect x="10" y="599" width="1" height="130" fill="#000"/>
<rect x="1644" y="599" width="1" height="130" fill="#000"/>
<g shape-rendering="crispEdges">
<rect x="1645" y="73" width="2" height="1" fill="#000"/>
<rect x="1645" y="122" width="2" height="1" fill="#000"/>
<rect x="1645" y="171" width="2" height="1" fill="#000"/>
<rect x="1645" y="220" width="2" height="1" fill="#000"/>
<rect x="1645" y="268" width="2" height="1" fill="#000"/>
<rect x="1645" y="317" width="2" height="1" fill="#000"/>
<rect x="1645" y="366" width="2" height="1" fill="#000"/>
<rect x="1645" y="415" width="2" height="1" fill="#000"/>
<rect x="1645" y="464" width="2" height="1" fill="#000"/>
<rect x="1645" y="513" width="2" height="1" fill="#000"/>
</g>
<text x="1650.6" y="77.7" textLength="38.7" lengthAdjust="spacing">57.600</text>
<text x="1650.6" y="126.7" textLength="38.7" lengthAdjust="spacing">56.900</text>
<text x="1650.6" y="175.7" textLength="38.7" lengthAdjust="spacing">56.200</text>
<text x="1650.6" y="224.7" textLength="38.7" lengthAdjust="spacing">55.500</text>
<text x="1650.6" y="272.7" textLength="38.7" lengthAdjust="spacing">54.810</text>
<text x="1650.6" y="321.7" textLength="38.7" lengthAdjust="spacing">54.110</text>
<text x="1650.6" y="370.7" textLength="38.7" lengthAdjust="spacing">53.410</text>
<text x="1650.6" y="419.7" textLength="38.7" lengthAdjust="spacing">52.710</text>
<text x="1650.6" y="468.7" textLength="38.7" lengthAdjust="spacing">52.010</text>
<text x="1650.6" y="517.7" textLength="38.7" lengthAdjust="spacing">51.310</text>
<rect x="1646" y="71" width="49" height="14" fill="#ff4500" shape-rendering="crispEdges"/>
<text x="1650.8" y="82.8" textLength="39.0" lengthAdjust="spacing" style="fill:#fff">57.550</text>
<rect x="1646" y="111" width="49" height="13.5" fill="#000" shape-rendering="crispEdges"/>
<text x="1650.8" y="123.1" textLength="39.0" lengthAdjust="spacing" style="fill:#fff">56.960</text>
<rect x="1646" y="178" width="49" height="14" fill="#00fa9a" shape-rendering="crispEdges"/>
<text x="1650.8" y="189.9" textLength="39.0" lengthAdjust="spacing" style="fill:#fff">56.018</text>
<rect x="1646" y="306" width="49" height="14" fill="#0000ff" shape-rendering="crispEdges"/>
<text x="1650.8" y="317.9" textLength="39.0" lengthAdjust="spacing" style="fill:#fff">54.196</text>
<rect x="1646" y="458" width="49" height="14" fill="#0000ff" shape-rendering="crispEdges"/>
<text x="1650.8" y="469.9" textLength="39.0" lengthAdjust="spacing" style="fill:#fff">52.032</text>
<g shape-rendering="crispEdges">
<rect x="1645" y="537" width="1" height="1" fill="#000"/>
<rect x="1645" y="572" width="1" height="1" fill="#000"/>
<rect x="1645" y="596" width="1" height="1" fill="#000"/>
<rect x="1645" y="601" width="1" height="1" fill="#000"/>
<rect x="1645" y="639" width="1" height="1" fill="#000"/>
<rect x="1645" y="689" width="1" height="1" fill="#000"/>
<rect x="1645" y="726" width="1" height="1" fill="#000"/>
</g>
<text x="1647.9" y="548.8" textLength="39.7" lengthAdjust="spacing">0.8169</text>
<text x="1647.9" y="576.6" textLength="24.6" lengthAdjust="spacing">0.00</text>
<text x="1647.9" y="593.9" textLength="42.5" lengthAdjust="spacing">-0.5457</text>
<text x="1648.1" y="613.0" textLength="20.6" lengthAdjust="spacing">100</text>
<text x="1647.0" y="643.8" textLength="13.6" lengthAdjust="spacing">70</text>
<text x="1647.0" y="693.7" textLength="13.6" lengthAdjust="spacing">30</text>
<text x="1648.1" y="724.7">0</text>
<g shape-rendering="crispEdges">
<rect x="11" y="729" width="1" height="3" fill="#000"/>
<rect x="107" y="729" width="1" height="3" fill="#000"/>
<rect x="203" y="729" width="1" height="3" fill="#000"/>
<rect x="299" y="729" width="1" height="3" fill="#000"/>
<rect x="395" y="729" width="1" height="3" fill="#000"/>
<rect x="491" y="729" width="1" height="3" fill="#000"/>
<rect x="587" y="729" width="1" height="3" fill="#000"/>
<rect x="683" y="729" width="1" height="3" fill="#000"/>
<rect x="779" y="729" width="1" height="3" fill="#000"/>
<rect x="875" y="729" width="1" height="3" fill="#000"/>
<rect x="971" y="729" width="1" height="3" fill="#000"/>
<rect x="1067" y="729" width="1" height="3" fill="#000"/>
<rect x="1163" y="729" width="1" height="3" fill="#000"/>
<rect x="1259" y="729" width="1" height="3" fill="#000"/>
</g>
<text x="10.0" y="743.9" textLength="68.2" lengthAdjust="spacing">22 Jan 2019</text>
<text x="106.0" y="743.9" textLength="72.2" lengthAdjust="spacing">24 Jan 16:00</text>
<text x="202.0" y="743.9" textLength="72.2" lengthAdjust="spacing">28 Jan 12:00</text>
<text x="298.0" y="743.9" textLength="72.3" lengthAdjust="spacing">30 Jan 12:00</text>
<text x="394.0" y="743.9" textLength="67.2" lengthAdjust="spacing">1 Feb 12:00</text>
<text x="490.0" y="743.9" textLength="67.3" lengthAdjust="spacing">5 Feb 08:00</text>
<text x="586.0" y="743.9" textLength="67.2" lengthAdjust="spacing">7 Feb 08:00</text>
<text x="682.0" y="743.9" textLength="73.8" lengthAdjust="spacing">11 Feb 04:00</text>
<text x="778.0" y="743.9" textLength="73.2" lengthAdjust="spacing">13 Feb 04:00</text>
<text x="874.0" y="743.9" textLength="74.2" lengthAdjust="spacing">15 Feb 04:00</text>
<text x="970.0" y="743.9" textLength="73.8" lengthAdjust="spacing">19 Feb 00:00</text>
<text x="1066.0" y="743.9" textLength="74.6" lengthAdjust="spacing">21 Feb 00:00</text>
<text x="1162.0" y="743.9" textLength="74.6" lengthAdjust="spacing">24 Feb 23:00</text>
<text x="1258.0" y="743.9" textLength="74.2" lengthAdjust="spacing">26 Feb 20:00</text>
<polygon points="14.2,49 23.4,49 18.8,44.1" fill="#000"/>
<text x="28.9" y="50.5" textLength="226.6" lengthAdjust="spacing">USOil-,H4&#160;&#160;56.890 57.020 56.890 56.960</text>
<text x="15.1" y="551.1" textLength="174.7" lengthAdjust="spacing">MACD(12,26,9) 0.0407 -0.1773</text>
<text x="15.1" y="614.9" textLength="91.6" lengthAdjust="spacing">RSI(14) 59.0554</text>
<text class="cj" style="fill:#ff1f0f;font-weight:400"><tspan x="1248.8" y="417.3" textLength="256.6" lengthAdjust="spacingAndGlyphs" style="font-size:53px">多空转折点</tspan><tspan class="cj2" x="1503" y="412.9" style="font-size:51.2px">56</tspan></text>
<g shape-rendering="crispEdges">
<rect x="12" y="57" width="287" height="80" fill="#fff"/>
<rect x="14" y="59" width="68" height="28" fill="#0505b2"/>
<rect x="15" y="60" width="66" height="27" fill="url(#gSell)"/>
<rect x="229" y="59" width="68" height="28" fill="#0505b2"/>
<rect x="230" y="60" width="66" height="27" fill="url(#gSell)"/>
<rect x="14" y="86" width="141" height="49" fill="#0505b2"/>
<rect x="15" y="87" width="139" height="47" fill="url(#gTile)"/>
<rect x="157" y="86" width="140" height="49" fill="#0505b2"/>
<rect x="158" y="87" width="138" height="47" fill="url(#gTile)"/>
<rect x="15" y="86" width="66" height="1" fill="#3a3ae2"/>
<rect x="230" y="86" width="66" height="1" fill="#3a3ae2"/>
<rect x="18" y="85" width="60" height="1" fill="#0a0a9c"/><rect x="18" y="86" width="60" height="1" fill="#7676f6"/>
<rect x="233" y="85" width="60" height="1" fill="#0a0a9c"/><rect x="233" y="86" width="60" height="1" fill="#7676f6"/>
<rect x="84" y="59" width="143" height="25" fill="#fff" stroke="none"/>
<rect x="84" y="59" width="143" height="1" fill="#b4b4b4"/><rect x="84" y="83" width="143" height="1" fill="#b4b4b4"/>
<rect x="84" y="59" width="1" height="25" fill="#b4b4b4"/><rect x="226" y="59" width="1" height="25" fill="#b4b4b4"/>
<rect x="86" y="61" width="22" height="21" fill="url(#gBtn)"/>
<rect x="203" y="61" width="22" height="21" fill="url(#gBtn)"/>
<rect x="108" y="60" width="1" height="23" fill="#c8c8c8"/><rect x="202" y="60" width="1" height="23" fill="#c8c8c8"/>
</g>
<polygon points="92.8,70.2 100.2,70.2 96.5,74.1" fill="#6474b6"/>
<polygon points="210.7,73 218.3,73 214.5,68.9" fill="#6474b6"/>
<text x="31.1" y="77.9" textLength="33.4" lengthAdjust="spacingAndGlyphs" style="font-size:14.7px;fill:#fff">SELL</text>
<text x="248.1" y="77.9" textLength="29.2" lengthAdjust="spacingAndGlyphs" style="font-size:14.7px;fill:#fff">BUY</text>
<text x="168.3" y="77.5" textLength="30.6" lengthAdjust="spacingAndGlyphs" style="font-size:15.4px">1.00</text>
<text x="53.3" y="123.9" textLength="18.2" lengthAdjust="spacingAndGlyphs" style="font-size:14.9px;fill:#fff;font-weight:bold">56</text>
<text x="75.6" y="124.2" textLength="44.6" lengthAdjust="spacingAndGlyphs" style="font-size:39.6px;fill:#fff">96</text>
<text x="123.9" y="106.5" textLength="9.5" lengthAdjust="spacingAndGlyphs" style="font-size:15.2px;fill:#fff;font-weight:bold">0</text>
<text x="195.2" y="123.9" textLength="17.6" lengthAdjust="spacingAndGlyphs" style="font-size:14.9px;fill:#fff;font-weight:bold">57</text>
<text x="218.2" y="124.2" textLength="44.2" lengthAdjust="spacingAndGlyphs" style="font-size:39.6px;fill:#fff">01</text>
<text x="266.7" y="106.5" textLength="9.5" lengthAdjust="spacingAndGlyphs" style="font-size:15.2px;fill:#fff;font-weight:bold">0</text>
<g filter="url(#soft)">
<rect x="10.50" y="7.15" width="1.4" height="1.7" fill="#767676"/>
<rect x="13.08" y="7.15" width="1.4" height="1.7" fill="#767676"/>
<rect x="15.66" y="7.15" width="1.4" height="1.7" fill="#767676"/>
<rect x="18.24" y="7.15" width="1.4" height="1.7" fill="#767676"/>
<rect x="20.82" y="7.15" width="1.4" height="1.7" fill="#767676"/>
<rect x="23.40" y="7.15" width="1.4" height="1.7" fill="#767676"/>
<rect x="25.98" y="7.15" width="1.4" height="1.7" fill="#767676"/>
<rect x="10.50" y="11.05" width="1.4" height="1.7" fill="#767676"/>
<rect x="13.08" y="11.05" width="1.4" height="1.7" fill="#767676"/>
<rect x="15.66" y="11.05" width="1.4" height="1.7" fill="#767676"/>
<rect x="18.24" y="11.05" width="1.4" height="1.7" fill="#767676"/>
<rect x="20.82" y="11.05" width="1.4" height="1.7" fill="#767676"/>
<rect x="23.40" y="11.05" width="1.4" height="1.7" fill="#767676"/>
<rect x="25.98" y="11.05" width="1.4" height="1.7" fill="#767676"/>
<rect x="10.50" y="16.05" width="1.4" height="1.7" fill="#767676"/>
<rect x="13.08" y="16.05" width="1.4" height="1.7" fill="#767676"/>
<rect x="15.66" y="16.05" width="1.4" height="1.7" fill="#767676"/>
<rect x="18.24" y="16.05" width="1.4" height="1.7" fill="#767676"/>
<rect x="20.82" y="16.05" width="1.4" height="1.7" fill="#767676"/>
<rect x="23.40" y="16.05" width="1.4" height="1.7" fill="#767676"/>
<rect x="25.98" y="16.05" width="1.4" height="1.7" fill="#767676"/>
<rect x="10.50" y="21.05" width="1.4" height="1.7" fill="#767676"/>
<rect x="13.08" y="21.05" width="1.4" height="1.7" fill="#767676"/>
<rect x="15.66" y="21.05" width="1.4" height="1.7" fill="#767676"/>
<rect x="18.24" y="21.05" width="1.4" height="1.7" fill="#767676"/>
<rect x="20.82" y="21.05" width="1.4" height="1.7" fill="#767676"/>
<rect x="80.9" y="9.7" width="13.4" height="14.6" fill="none" stroke="#606060" stroke-width="1.1" stroke-dasharray="1.05 1.55"/>
<rect x="78.6" y="7.6" width="2.6" height="2.2" fill="#707070"/>
</g>
<g shape-rendering="crispEdges">
<rect x="151" y="0" width="1" height="32" fill="#a0a0a0"/><rect x="152" y="0" width="1" height="32" fill="#fff"/>
<rect x="155" y="3" width="3" height="1" fill="#b4b4b4"/>
<rect x="155" y="5" width="3" height="1" fill="#b4b4b4"/>
<rect x="155" y="7" width="3" height="1" fill="#b4b4b4"/>
<rect x="155" y="9" width="3" height="1" fill="#b4b4b4"/>
<rect x="155" y="11" width="3" height="1" fill="#b4b4b4"/>
<rect x="155" y="13" width="3" height="1" fill="#b4b4b4"/>
<rect x="155" y="15" width="3" height="1" fill="#b4b4b4"/>
<rect x="155" y="17" width="3" height="1" fill="#b4b4b4"/>
<rect x="155" y="19" width="3" height="1" fill="#b4b4b4"/>
<rect x="155" y="21" width="3" height="1" fill="#b4b4b4"/>
<rect x="155" y="23" width="3" height="1" fill="#b4b4b4"/>
<rect x="155" y="25" width="3" height="1" fill="#b4b4b4"/>
<rect x="155" y="27" width="3" height="1" fill="#b4b4b4"/>
<rect x="155" y="29" width="3" height="1" fill="#b4b4b4"/>
<rect x="466" y="0" width="1" height="32" fill="#a0a0a0"/><rect x="467" y="0" width="1" height="32" fill="#fff"/>
<rect x="331" y="1" width="32" height="29" fill="#f7f7f7"/>
<rect x="331" y="1" width="32" height="1" fill="#a0a0a0"/><rect x="331" y="1" width="1" height="29" fill="#a0a0a0"/>
<rect x="331" y="29" width="32" height="1" fill="#fff"/><rect x="362" y="1" width="1" height="29" fill="#fff"/>
</g>
<g filter="url(#soft)">
<text x="22.6" y="27.7" textLength="5.8" lengthAdjust="spacingAndGlyphs" style="font-family:'Liberation Sans',sans-serif;font-size:9.4px;font-weight:bold;fill:#5e5e5e">F</text>
<text x="47.9" y="22.7" textLength="10.3" lengthAdjust="spacingAndGlyphs" style="font-family:'Liberation Sans',sans-serif;font-size:16.2px;font-weight:bold;fill:#686868">A</text>
<text x="82.4" y="22.4" textLength="10" lengthAdjust="spacingAndGlyphs" style="font-family:'Liberation Sans',sans-serif;font-size:14px;font-weight:bold;fill:#808080">T</text>
<polygon points="117,8.6 121.4,13.4 118.9,13.4 118.9,14.8 115.2,14.8 115.2,13.4 112.7,13.4" fill="#6e6e6e"/>
<polygon points="123.9,19 127.6,19 127.6,20.3 130.3,20.3 125.8,25.2 121.4,20.3 123.9,20.3" fill="#6e6e6e"/>
<polyline points="115.4,17.7 118.3,20.4 123.9,14.2" fill="none" stroke="#5a5a5a" stroke-width="1.5"/>
</g>
<polygon points="135.8,15 143.2,15 139.5,19.1" fill="#000"/>
<g filter="url(#gray)">
<text x="167.8" y="21.2" textLength="16.0" lengthAdjust="spacingAndGlyphs" style="fill:#626262">M1</text>
<text x="201.2" y="21.2" textLength="16.6" lengthAdjust="spacingAndGlyphs" style="fill:#626262">M5</text>
<text x="233.2" y="21.2" textLength="22.4" lengthAdjust="spacingAndGlyphs" style="fill:#626262">M15</text>
<text x="266.9" y="21.2" textLength="23.0" lengthAdjust="spacingAndGlyphs" style="fill:#626262">M30</text>
<text x="304.9" y="21.2" textLength="15.2" lengthAdjust="spacingAndGlyphs" style="fill:#626262">H1</text>
<text x="337.8" y="21.2" textLength="15.8" lengthAdjust="spacingAndGlyphs" style="fill:#626262">H4</text>
<text x="372.9" y="21.2" textLength="15.4" lengthAdjust="spacingAndGlyphs" style="fill:#626262">D1</text>
<text x="406.0" y="21.2" textLength="18.6" lengthAdjust="spacingAndGlyphs" style="fill:#626262">W1</text>
<text x="438.3" y="21.2" textLength="19.2" lengthAdjust="spacingAndGlyphs" style="fill:#626262">MN</text>
</g>
</svg></body></html>
